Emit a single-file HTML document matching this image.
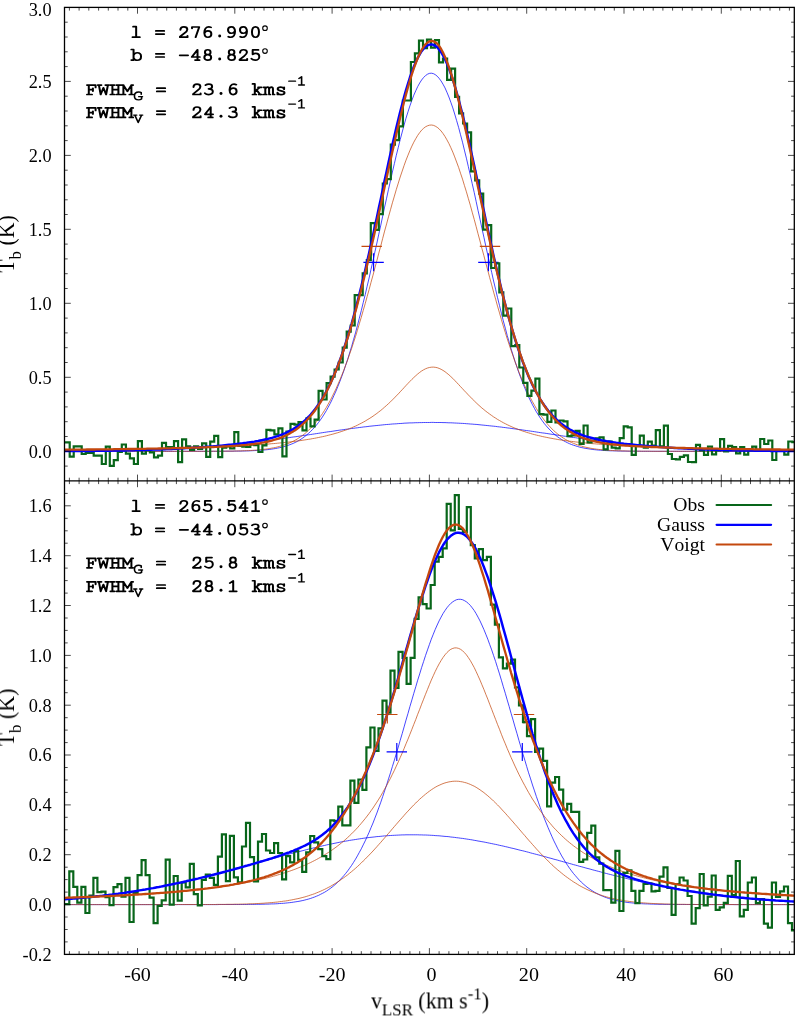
<!DOCTYPE html>
<html><head><meta charset="utf-8"><title>HI profiles</title>
<style>html,body{margin:0;padding:0;background:#fff}svg{display:block;will-change:transform}text{font-kerning:none}</style></head>
<body>
<svg width="796" height="1016" viewBox="0 0 796 1016">
<rect width="796" height="1016" fill="#fff"/>
<defs><clipPath id="c1"><rect x="64.5" y="7.4" width="729.8" height="473.5"/></clipPath>
<clipPath id="c2"><rect x="64.5" y="480.9" width="729.8" height="473.5"/></clipPath></defs>
<g clip-path="url(#c1)" fill="none" stroke-linejoin="miter">
<path d="M63.6,451.3 L65.5,451.3 L67.4,451.3 L69.4,451.3 L71.3,451.3 L73.3,451.3 L75.2,451.3 L77.2,451.3 L79.1,451.3 L81.1,451.3 L83.0,451.3 L85.0,451.3 L86.9,451.3 L88.8,451.3 L90.8,451.3 L92.7,451.3 L94.7,451.3 L96.6,451.3 L98.6,451.3 L100.5,451.3 L102.5,451.3 L104.4,451.3 L106.4,451.3 L108.3,451.3 L110.3,451.3 L112.2,451.3 L114.1,451.3 L116.1,451.3 L118.0,451.3 L120.0,451.3 L121.9,451.3 L123.9,451.3 L125.8,451.3 L127.8,451.3 L129.7,451.3 L131.7,451.3 L133.6,451.3 L135.6,451.3 L137.5,451.3 L139.4,451.3 L141.4,451.3 L143.3,451.3 L145.3,451.3 L147.2,451.3 L149.2,451.3 L151.1,451.3 L153.1,451.3 L155.0,451.3 L157.0,451.3 L158.9,451.3 L160.9,451.3 L162.8,451.3 L164.7,451.3 L166.7,451.3 L168.6,451.3 L170.6,451.3 L172.5,451.3 L174.5,451.3 L176.4,451.3 L178.4,451.3 L180.3,451.3 L182.3,451.3 L184.2,451.3 L186.1,451.3 L188.1,451.3 L190.0,451.3 L192.0,451.3 L193.9,451.3 L195.9,451.3 L197.8,451.3 L199.8,451.3 L201.7,451.3 L203.7,451.3 L205.6,451.3 L207.6,451.3 L209.5,451.3 L211.4,451.3 L213.4,451.3 L215.3,451.3 L217.3,451.3 L219.2,451.3 L221.2,451.3 L223.1,451.2 L225.1,451.2 L227.0,451.2 L229.0,451.2 L230.9,451.2 L232.9,451.2 L234.8,451.1 L236.7,451.1 L238.7,451.1 L240.6,451.1 L242.6,451.0 L244.5,451.0 L246.5,450.9 L248.4,450.9 L250.4,450.8 L252.3,450.7 L254.3,450.6 L256.2,450.5 L258.2,450.4 L260.1,450.3 L262.0,450.2 L264.0,450.0 L265.9,449.8 L267.9,449.6 L269.8,449.4 L271.8,449.1 L273.7,448.8 L275.7,448.5 L277.6,448.1 L279.6,447.7 L281.5,447.3 L283.4,446.8 L285.4,446.2 L287.3,445.6 L289.3,444.9 L291.2,444.2 L293.2,443.4 L295.1,442.5 L297.1,441.5 L299.0,440.4 L301.0,439.2 L302.9,437.9 L304.9,436.4 L306.8,434.9 L308.7,433.2 L310.7,431.4 L312.6,429.4 L314.6,427.3 L316.5,425.0 L318.5,422.5 L320.4,419.9 L322.4,417.0 L324.3,414.0 L326.3,410.7 L328.2,407.2 L330.2,403.5 L332.1,399.6 L334.0,395.4 L336.0,391.0 L337.9,386.4 L339.9,381.4 L341.8,376.3 L343.8,370.9 L345.7,365.2 L347.7,359.2 L349.6,353.0 L351.6,346.6 L353.5,339.8 L355.5,332.9 L357.4,325.7 L359.3,318.3 L361.3,310.6 L363.2,302.7 L365.2,294.7 L367.1,286.4 L369.1,278.0 L371.0,269.4 L373.0,260.7 L374.9,251.9 L376.9,243.0 L378.8,234.1 L380.8,225.1 L382.7,216.1 L384.6,207.1 L386.6,198.2 L388.5,189.3 L390.5,180.6 L392.4,172.0 L394.4,163.5 L396.3,155.3 L398.3,147.3 L400.2,139.6 L402.2,132.1 L404.1,125.0 L406.0,118.2 L408.0,111.8 L409.9,105.9 L411.9,100.3 L413.8,95.2 L415.8,90.7 L417.7,86.6 L419.7,83.0 L421.6,80.0 L423.6,77.5 L425.5,75.6 L427.5,74.2 L429.4,73.4 L431.3,73.2 L433.3,73.6 L435.2,74.6 L437.2,76.2 L439.1,78.3 L441.1,81.0 L443.0,84.2 L445.0,87.9 L446.9,92.2 L448.9,97.0 L450.8,102.2 L452.8,107.9 L454.7,114.0 L456.6,120.5 L458.6,127.4 L460.5,134.7 L462.5,142.2 L464.4,150.1 L466.4,158.2 L468.3,166.5 L470.3,175.0 L472.2,183.6 L474.2,192.4 L476.1,201.3 L478.0,210.3 L480.0,219.2 L481.9,228.2 L483.9,237.2 L485.8,246.2 L487.8,255.0 L489.7,263.8 L491.7,272.4 L493.6,281.0 L495.6,289.3 L497.5,297.5 L499.5,305.5 L501.4,313.3 L503.3,320.9 L505.3,328.2 L507.2,335.4 L509.2,342.2 L511.1,348.9 L513.1,355.2 L515.0,361.3 L517.0,367.2 L518.9,372.8 L520.9,378.1 L522.8,383.2 L524.8,388.0 L526.7,392.6 L528.6,396.9 L530.6,401.0 L532.5,404.8 L534.5,408.5 L536.4,411.9 L538.4,415.0 L540.3,418.0 L542.3,420.8 L544.2,423.4 L546.2,425.8 L548.1,428.0 L550.1,430.1 L552.0,432.0 L553.9,433.8 L555.9,435.4 L557.8,437.0 L559.8,438.3 L561.7,439.6 L563.7,440.8 L565.6,441.8 L567.6,442.8 L569.5,443.7 L571.5,444.5 L573.4,445.2 L575.4,445.8 L577.3,446.4 L579.2,447.0 L581.2,447.5 L583.1,447.9 L585.1,448.3 L587.0,448.6 L589.0,448.9 L590.9,449.2 L592.9,449.5 L594.8,449.7 L596.8,449.9 L598.7,450.1 L600.6,450.2 L602.6,450.4 L604.5,450.5 L606.5,450.6 L608.4,450.7 L610.4,450.8 L612.3,450.8 L614.3,450.9 L616.2,450.9 L618.2,451.0 L620.1,451.0 L622.1,451.1 L624.0,451.1 L625.9,451.1 L627.9,451.2 L629.8,451.2 L631.8,451.2 L633.7,451.2 L635.7,451.2 L637.6,451.2 L639.6,451.2 L641.5,451.3 L643.5,451.3 L645.4,451.3 L647.4,451.3 L649.3,451.3 L651.2,451.3 L653.2,451.3 L655.1,451.3 L657.1,451.3 L659.0,451.3 L661.0,451.3 L662.9,451.3 L664.9,451.3 L666.8,451.3 L668.8,451.3 L670.7,451.3 L672.6,451.3 L674.6,451.3 L676.5,451.3 L678.5,451.3 L680.4,451.3 L682.4,451.3 L684.3,451.3 L686.3,451.3 L688.2,451.3 L690.2,451.3 L692.1,451.3 L694.1,451.3 L696.0,451.3 L697.9,451.3 L699.9,451.3 L701.8,451.3 L703.8,451.3 L705.7,451.3 L707.7,451.3 L709.6,451.3 L711.6,451.3 L713.5,451.3 L715.5,451.3 L717.4,451.3 L719.4,451.3 L721.3,451.3 L723.2,451.3 L725.2,451.3 L727.1,451.3 L729.1,451.3 L731.0,451.3 L733.0,451.3 L734.9,451.3 L736.9,451.3 L738.8,451.3 L740.8,451.3 L742.7,451.3 L744.7,451.3 L746.6,451.3 L748.5,451.3 L750.5,451.3 L752.4,451.3 L754.4,451.3 L756.3,451.3 L758.3,451.3 L760.2,451.3 L762.2,451.3 L764.1,451.3 L766.1,451.3 L768.0,451.3 L770.0,451.3 L771.9,451.3 L773.8,451.3 L775.8,451.3 L777.7,451.3 L779.7,451.3 L781.6,451.3 L783.6,451.3 L785.5,451.3 L787.5,451.3 L789.4,451.3 L791.4,451.3 L793.3,451.3 L795.2,451.3" stroke="#0000ff" stroke-width="1" stroke-opacity="0.72"/>
<path d="M63.6,451.1 L65.5,451.1 L67.4,451.1 L69.4,451.1 L71.3,451.1 L73.3,451.0 L75.2,451.0 L77.2,451.0 L79.1,451.0 L81.1,451.0 L83.0,451.0 L85.0,451.0 L86.9,450.9 L88.8,450.9 L90.8,450.9 L92.7,450.9 L94.7,450.9 L96.6,450.8 L98.6,450.8 L100.5,450.8 L102.5,450.8 L104.4,450.7 L106.4,450.7 L108.3,450.7 L110.3,450.7 L112.2,450.6 L114.1,450.6 L116.1,450.6 L118.0,450.5 L120.0,450.5 L121.9,450.4 L123.9,450.4 L125.8,450.4 L127.8,450.3 L129.7,450.3 L131.7,450.2 L133.6,450.2 L135.6,450.1 L137.5,450.1 L139.4,450.0 L141.4,450.0 L143.3,449.9 L145.3,449.9 L147.2,449.8 L149.2,449.8 L151.1,449.7 L153.1,449.6 L155.0,449.6 L157.0,449.5 L158.9,449.4 L160.9,449.4 L162.8,449.3 L164.7,449.2 L166.7,449.1 L168.6,449.0 L170.6,448.9 L172.5,448.9 L174.5,448.8 L176.4,448.7 L178.4,448.6 L180.3,448.5 L182.3,448.4 L184.2,448.3 L186.1,448.2 L188.1,448.0 L190.0,447.9 L192.0,447.8 L193.9,447.7 L195.9,447.6 L197.8,447.4 L199.8,447.3 L201.7,447.2 L203.7,447.0 L205.6,446.9 L207.6,446.7 L209.5,446.6 L211.4,446.4 L213.4,446.3 L215.3,446.1 L217.3,446.0 L219.2,445.8 L221.2,445.6 L223.1,445.5 L225.1,445.3 L227.0,445.1 L229.0,444.9 L230.9,444.7 L232.9,444.6 L234.8,444.4 L236.7,444.2 L238.7,444.0 L240.6,443.8 L242.6,443.5 L244.5,443.3 L246.5,443.1 L248.4,442.9 L250.4,442.7 L252.3,442.5 L254.3,442.2 L256.2,442.0 L258.2,441.8 L260.1,441.5 L262.0,441.3 L264.0,441.0 L265.9,440.8 L267.9,440.5 L269.8,440.3 L271.8,440.0 L273.7,439.8 L275.7,439.5 L277.6,439.2 L279.6,439.0 L281.5,438.7 L283.4,438.4 L285.4,438.2 L287.3,437.9 L289.3,437.6 L291.2,437.3 L293.2,437.0 L295.1,436.8 L297.1,436.5 L299.0,436.2 L301.0,435.9 L302.9,435.6 L304.9,435.3 L306.8,435.0 L308.7,434.8 L310.7,434.5 L312.6,434.2 L314.6,433.9 L316.5,433.6 L318.5,433.3 L320.4,433.0 L322.4,432.7 L324.3,432.4 L326.3,432.1 L328.2,431.8 L330.2,431.6 L332.1,431.3 L334.0,431.0 L336.0,430.7 L337.9,430.4 L339.9,430.1 L341.8,429.9 L343.8,429.6 L345.7,429.3 L347.7,429.1 L349.6,428.8 L351.6,428.5 L353.5,428.3 L355.5,428.0 L357.4,427.8 L359.3,427.5 L361.3,427.3 L363.2,427.0 L365.2,426.8 L367.1,426.6 L369.1,426.3 L371.0,426.1 L373.0,425.9 L374.9,425.7 L376.9,425.5 L378.8,425.3 L380.8,425.1 L382.7,424.9 L384.6,424.7 L386.6,424.5 L388.5,424.4 L390.5,424.2 L392.4,424.0 L394.4,423.9 L396.3,423.8 L398.3,423.6 L400.2,423.5 L402.2,423.4 L404.1,423.2 L406.0,423.1 L408.0,423.0 L409.9,422.9 L411.9,422.9 L413.8,422.8 L415.8,422.7 L417.7,422.7 L419.7,422.6 L421.6,422.6 L423.6,422.5 L425.5,422.5 L427.5,422.5 L429.4,422.5 L431.3,422.4 L433.3,422.4 L435.2,422.5 L437.2,422.5 L439.1,422.5 L441.1,422.5 L443.0,422.6 L445.0,422.6 L446.9,422.7 L448.9,422.8 L450.8,422.8 L452.8,422.9 L454.7,423.0 L456.6,423.1 L458.6,423.2 L460.5,423.3 L462.5,423.4 L464.4,423.5 L466.4,423.7 L468.3,423.8 L470.3,424.0 L472.2,424.1 L474.2,424.3 L476.1,424.4 L478.0,424.6 L480.0,424.8 L481.9,425.0 L483.9,425.2 L485.8,425.4 L487.8,425.6 L489.7,425.8 L491.7,426.0 L493.6,426.2 L495.6,426.4 L497.5,426.7 L499.5,426.9 L501.4,427.1 L503.3,427.4 L505.3,427.6 L507.2,427.9 L509.2,428.1 L511.1,428.4 L513.1,428.7 L515.0,428.9 L517.0,429.2 L518.9,429.5 L520.9,429.7 L522.8,430.0 L524.8,430.3 L526.7,430.6 L528.6,430.8 L530.6,431.1 L532.5,431.4 L534.5,431.7 L536.4,432.0 L538.4,432.3 L540.3,432.6 L542.3,432.9 L544.2,433.1 L546.2,433.4 L548.1,433.7 L550.1,434.0 L552.0,434.3 L553.9,434.6 L555.9,434.9 L557.8,435.2 L559.8,435.5 L561.7,435.8 L563.7,436.1 L565.6,436.3 L567.6,436.6 L569.5,436.9 L571.5,437.2 L573.4,437.5 L575.4,437.7 L577.3,438.0 L579.2,438.3 L581.2,438.6 L583.1,438.8 L585.1,439.1 L587.0,439.4 L589.0,439.6 L590.9,439.9 L592.9,440.2 L594.8,440.4 L596.8,440.7 L598.7,440.9 L600.6,441.2 L602.6,441.4 L604.5,441.6 L606.5,441.9 L608.4,442.1 L610.4,442.3 L612.3,442.6 L614.3,442.8 L616.2,443.0 L618.2,443.2 L620.1,443.4 L622.1,443.7 L624.0,443.9 L625.9,444.1 L627.9,444.3 L629.8,444.5 L631.8,444.6 L633.7,444.8 L635.7,445.0 L637.6,445.2 L639.6,445.4 L641.5,445.6 L643.5,445.7 L645.4,445.9 L647.4,446.1 L649.3,446.2 L651.2,446.4 L653.2,446.5 L655.1,446.7 L657.1,446.8 L659.0,447.0 L661.0,447.1 L662.9,447.2 L664.9,447.4 L666.8,447.5 L668.8,447.6 L670.7,447.7 L672.6,447.9 L674.6,448.0 L676.5,448.1 L678.5,448.2 L680.4,448.3 L682.4,448.4 L684.3,448.5 L686.3,448.6 L688.2,448.7 L690.2,448.8 L692.1,448.9 L694.1,449.0 L696.0,449.1 L697.9,449.2 L699.9,449.2 L701.8,449.3 L703.8,449.4 L705.7,449.5 L707.7,449.5 L709.6,449.6 L711.6,449.7 L713.5,449.7 L715.5,449.8 L717.4,449.9 L719.4,449.9 L721.3,450.0 L723.2,450.0 L725.2,450.1 L727.1,450.1 L729.1,450.2 L731.0,450.2 L733.0,450.3 L734.9,450.3 L736.9,450.4 L738.8,450.4 L740.8,450.4 L742.7,450.5 L744.7,450.5 L746.6,450.5 L748.5,450.6 L750.5,450.6 L752.4,450.6 L754.4,450.7 L756.3,450.7 L758.3,450.7 L760.2,450.7 L762.2,450.8 L764.1,450.8 L766.1,450.8 L768.0,450.8 L770.0,450.9 L771.9,450.9 L773.8,450.9 L775.8,450.9 L777.7,450.9 L779.7,451.0 L781.6,451.0 L783.6,451.0 L785.5,451.0 L787.5,451.0 L789.4,451.0 L791.4,451.0 L793.3,451.1 L795.2,451.1" stroke="#0000ff" stroke-width="1" stroke-opacity="0.72"/>
<path d="M63.6,451.3 L65.5,451.3 L67.4,451.3 L69.4,451.3 L71.3,451.3 L73.3,451.3 L75.2,451.3 L77.2,451.3 L79.1,451.3 L81.1,451.3 L83.0,451.3 L85.0,451.3 L86.9,451.3 L88.8,451.3 L90.8,451.3 L92.7,451.3 L94.7,451.3 L96.6,451.3 L98.6,451.3 L100.5,451.3 L102.5,451.3 L104.4,451.3 L106.4,451.3 L108.3,451.3 L110.3,451.3 L112.2,451.3 L114.1,451.3 L116.1,451.3 L118.0,451.3 L120.0,451.3 L121.9,451.3 L123.9,451.3 L125.8,451.3 L127.8,451.3 L129.7,451.3 L131.7,451.3 L133.6,451.3 L135.6,451.3 L137.5,451.3 L139.4,451.3 L141.4,451.3 L143.3,451.3 L145.3,451.3 L147.2,451.3 L149.2,451.3 L151.1,451.3 L153.1,451.3 L155.0,451.3 L157.0,451.3 L158.9,451.3 L160.9,451.3 L162.8,451.3 L164.7,451.3 L166.7,451.3 L168.6,451.3 L170.6,451.3 L172.5,451.3 L174.5,451.3 L176.4,451.3 L178.4,451.3 L180.3,451.3 L182.3,451.3 L184.2,451.3 L186.1,451.3 L188.1,451.3 L190.0,451.3 L192.0,451.3 L193.9,451.3 L195.9,451.3 L197.8,451.3 L199.8,451.3 L201.7,451.3 L203.7,451.3 L205.6,451.3 L207.6,451.3 L209.5,451.3 L211.4,451.3 L213.4,451.2 L215.3,451.2 L217.3,451.2 L219.2,451.2 L221.2,451.2 L223.1,451.2 L225.1,451.2 L227.0,451.1 L229.0,451.1 L230.9,451.1 L232.9,451.1 L234.8,451.0 L236.7,451.0 L238.7,450.9 L240.6,450.9 L242.6,450.8 L244.5,450.7 L246.5,450.7 L248.4,450.6 L250.4,450.5 L252.3,450.4 L254.3,450.2 L256.2,450.1 L258.2,449.9 L260.1,449.7 L262.0,449.5 L264.0,449.3 L265.9,449.1 L267.9,448.8 L269.8,448.5 L271.8,448.1 L273.7,447.8 L275.7,447.4 L277.6,446.9 L279.6,446.4 L281.5,445.8 L283.4,445.2 L285.4,444.6 L287.3,443.8 L289.3,443.0 L291.2,442.2 L293.2,441.2 L295.1,440.2 L297.1,439.1 L299.0,437.8 L301.0,436.5 L302.9,435.1 L304.9,433.6 L306.8,431.9 L308.7,430.1 L310.7,428.2 L312.6,426.2 L314.6,424.0 L316.5,421.6 L318.5,419.2 L320.4,416.5 L322.4,413.7 L324.3,410.7 L326.3,407.5 L328.2,404.1 L330.2,400.6 L332.1,396.8 L334.0,392.9 L336.0,388.8 L337.9,384.4 L339.9,379.9 L341.8,375.2 L343.8,370.2 L345.7,365.1 L347.7,359.8 L349.6,354.2 L351.6,348.5 L353.5,342.6 L355.5,336.5 L357.4,330.3 L359.3,323.8 L361.3,317.2 L363.2,310.5 L365.2,303.7 L367.1,296.7 L369.1,289.6 L371.0,282.4 L373.0,275.2 L374.9,267.9 L376.9,260.5 L378.8,253.1 L380.8,245.8 L382.7,238.4 L384.6,231.1 L386.6,223.9 L388.5,216.8 L390.5,209.7 L392.4,202.8 L394.4,196.1 L396.3,189.5 L398.3,183.1 L400.2,177.0 L402.2,171.1 L404.1,165.5 L406.0,160.2 L408.0,155.2 L409.9,150.5 L411.9,146.1 L413.8,142.2 L415.8,138.6 L417.7,135.4 L419.7,132.6 L421.6,130.2 L423.6,128.3 L425.5,126.8 L427.5,125.8 L429.4,125.2 L431.3,125.0 L433.3,125.3 L435.2,126.1 L437.2,127.3 L439.1,128.9 L441.1,131.0 L443.0,133.5 L445.0,136.5 L446.9,139.8 L448.9,143.5 L450.8,147.6 L452.8,152.1 L454.7,156.9 L456.6,162.0 L458.6,167.4 L460.5,173.2 L462.5,179.1 L464.4,185.4 L466.4,191.8 L468.3,198.4 L470.3,205.2 L472.2,212.2 L474.2,219.3 L476.1,226.4 L478.0,233.7 L480.0,241.0 L481.9,248.4 L483.9,255.7 L485.8,263.1 L487.8,270.4 L489.7,277.7 L491.7,284.9 L493.6,292.1 L495.6,299.1 L497.5,306.1 L499.5,312.9 L501.4,319.6 L503.3,326.1 L505.3,332.5 L507.2,338.7 L509.2,344.7 L511.1,350.5 L513.1,356.2 L515.0,361.7 L517.0,366.9 L518.9,372.0 L520.9,376.9 L522.8,381.5 L524.8,386.0 L526.7,390.2 L528.6,394.3 L530.6,398.2 L532.5,401.8 L534.5,405.3 L536.4,408.6 L538.4,411.7 L540.3,414.7 L542.3,417.4 L544.2,420.0 L546.2,422.5 L548.1,424.8 L550.1,426.9 L552.0,428.9 L553.9,430.8 L555.9,432.5 L557.8,434.1 L559.8,435.6 L561.7,437.0 L563.7,438.3 L565.6,439.5 L567.6,440.6 L569.5,441.6 L571.5,442.5 L573.4,443.3 L575.4,444.1 L577.3,444.8 L579.2,445.5 L581.2,446.0 L583.1,446.6 L585.1,447.1 L587.0,447.5 L589.0,447.9 L590.9,448.3 L592.9,448.6 L594.8,448.9 L596.8,449.2 L598.7,449.4 L600.6,449.6 L602.6,449.8 L604.5,450.0 L606.5,450.1 L608.4,450.3 L610.4,450.4 L612.3,450.5 L614.3,450.6 L616.2,450.7 L618.2,450.8 L620.1,450.8 L622.1,450.9 L624.0,450.9 L625.9,451.0 L627.9,451.0 L629.8,451.1 L631.8,451.1 L633.7,451.1 L635.7,451.1 L637.6,451.2 L639.6,451.2 L641.5,451.2 L643.5,451.2 L645.4,451.2 L647.4,451.2 L649.3,451.2 L651.2,451.3 L653.2,451.3 L655.1,451.3 L657.1,451.3 L659.0,451.3 L661.0,451.3 L662.9,451.3 L664.9,451.3 L666.8,451.3 L668.8,451.3 L670.7,451.3 L672.6,451.3 L674.6,451.3 L676.5,451.3 L678.5,451.3 L680.4,451.3 L682.4,451.3 L684.3,451.3 L686.3,451.3 L688.2,451.3 L690.2,451.3 L692.1,451.3 L694.1,451.3 L696.0,451.3 L697.9,451.3 L699.9,451.3 L701.8,451.3 L703.8,451.3 L705.7,451.3 L707.7,451.3 L709.6,451.3 L711.6,451.3 L713.5,451.3 L715.5,451.3 L717.4,451.3 L719.4,451.3 L721.3,451.3 L723.2,451.3 L725.2,451.3 L727.1,451.3 L729.1,451.3 L731.0,451.3 L733.0,451.3 L734.9,451.3 L736.9,451.3 L738.8,451.3 L740.8,451.3 L742.7,451.3 L744.7,451.3 L746.6,451.3 L748.5,451.3 L750.5,451.3 L752.4,451.3 L754.4,451.3 L756.3,451.3 L758.3,451.3 L760.2,451.3 L762.2,451.3 L764.1,451.3 L766.1,451.3 L768.0,451.3 L770.0,451.3 L771.9,451.3 L773.8,451.3 L775.8,451.3 L777.7,451.3 L779.7,451.3 L781.6,451.3 L783.6,451.3 L785.5,451.3 L787.5,451.3 L789.4,451.3 L791.4,451.3 L793.3,451.3 L795.2,451.3" stroke="#c4480e" stroke-width="1" stroke-opacity="0.72"/>
<path d="M63.6,449.7 L65.5,449.7 L67.4,449.7 L69.4,449.7 L71.3,449.7 L73.3,449.7 L75.2,449.6 L77.2,449.6 L79.1,449.6 L81.1,449.6 L83.0,449.6 L85.0,449.6 L86.9,449.5 L88.8,449.5 L90.8,449.5 L92.7,449.5 L94.7,449.5 L96.6,449.4 L98.6,449.4 L100.5,449.4 L102.5,449.4 L104.4,449.3 L106.4,449.3 L108.3,449.3 L110.3,449.3 L112.2,449.3 L114.1,449.2 L116.1,449.2 L118.0,449.2 L120.0,449.2 L121.9,449.1 L123.9,449.1 L125.8,449.1 L127.8,449.0 L129.7,449.0 L131.7,449.0 L133.6,449.0 L135.6,448.9 L137.5,448.9 L139.4,448.9 L141.4,448.8 L143.3,448.8 L145.3,448.8 L147.2,448.7 L149.2,448.7 L151.1,448.7 L153.1,448.6 L155.0,448.6 L157.0,448.6 L158.9,448.5 L160.9,448.5 L162.8,448.4 L164.7,448.4 L166.7,448.4 L168.6,448.3 L170.6,448.3 L172.5,448.2 L174.5,448.2 L176.4,448.1 L178.4,448.1 L180.3,448.0 L182.3,448.0 L184.2,448.0 L186.1,447.9 L188.1,447.8 L190.0,447.8 L192.0,447.7 L193.9,447.7 L195.9,447.6 L197.8,447.6 L199.8,447.5 L201.7,447.4 L203.7,447.4 L205.6,447.3 L207.6,447.3 L209.5,447.2 L211.4,447.1 L213.4,447.0 L215.3,447.0 L217.3,446.9 L219.2,446.8 L221.2,446.7 L223.1,446.7 L225.1,446.6 L227.0,446.5 L229.0,446.4 L230.9,446.3 L232.9,446.2 L234.8,446.1 L236.7,446.0 L238.7,445.9 L240.6,445.8 L242.6,445.7 L244.5,445.6 L246.5,445.5 L248.4,445.4 L250.4,445.3 L252.3,445.2 L254.3,445.0 L256.2,444.9 L258.2,444.8 L260.1,444.6 L262.0,444.5 L264.0,444.4 L265.9,444.2 L267.9,444.1 L269.8,443.9 L271.8,443.7 L273.7,443.6 L275.7,443.4 L277.6,443.2 L279.6,443.0 L281.5,442.8 L283.4,442.6 L285.4,442.4 L287.3,442.2 L289.3,442.0 L291.2,441.8 L293.2,441.5 L295.1,441.3 L297.1,441.0 L299.0,440.8 L301.0,440.5 L302.9,440.2 L304.9,439.9 L306.8,439.6 L308.7,439.3 L310.7,439.0 L312.6,438.6 L314.6,438.3 L316.5,437.9 L318.5,437.5 L320.4,437.1 L322.4,436.7 L324.3,436.3 L326.3,435.8 L328.2,435.3 L330.2,434.8 L332.1,434.3 L334.0,433.8 L336.0,433.2 L337.9,432.7 L339.9,432.0 L341.8,431.4 L343.8,430.7 L345.7,430.1 L347.7,429.3 L349.6,428.6 L351.6,427.8 L353.5,426.9 L355.5,426.1 L357.4,425.2 L359.3,424.2 L361.3,423.2 L363.2,422.2 L365.2,421.1 L367.1,419.9 L369.1,418.7 L371.0,417.5 L373.0,416.2 L374.9,414.8 L376.9,413.4 L378.8,411.9 L380.8,410.4 L382.7,408.8 L384.6,407.1 L386.6,405.4 L388.5,403.6 L390.5,401.8 L392.4,399.9 L394.4,397.9 L396.3,395.9 L398.3,393.9 L400.2,391.8 L402.2,389.7 L404.1,387.6 L406.0,385.5 L408.0,383.4 L409.9,381.4 L411.9,379.4 L413.8,377.5 L415.8,375.7 L417.7,374.0 L419.7,372.4 L421.6,371.0 L423.6,369.8 L425.5,368.8 L427.5,368.0 L429.4,367.5 L431.3,367.2 L433.3,367.1 L435.2,367.3 L437.2,367.7 L439.1,368.4 L441.1,369.3 L443.0,370.4 L445.0,371.7 L446.9,373.2 L448.9,374.8 L450.8,376.6 L452.8,378.4 L454.7,380.4 L456.6,382.4 L458.6,384.5 L460.5,386.6 L462.5,388.7 L464.4,390.8 L466.4,392.8 L468.3,394.9 L470.3,396.9 L472.2,398.9 L474.2,400.8 L476.1,402.7 L478.0,404.5 L480.0,406.3 L481.9,408.0 L483.9,409.6 L485.8,411.2 L487.8,412.7 L489.7,414.1 L491.7,415.5 L493.6,416.9 L495.6,418.1 L497.5,419.4 L499.5,420.5 L501.4,421.6 L503.3,422.7 L505.3,423.7 L507.2,424.7 L509.2,425.6 L511.1,426.5 L513.1,427.4 L515.0,428.2 L517.0,428.9 L518.9,429.7 L520.9,430.4 L522.8,431.1 L524.8,431.7 L526.7,432.4 L528.6,432.9 L530.6,433.5 L532.5,434.1 L534.5,434.6 L536.4,435.1 L538.4,435.6 L540.3,436.0 L542.3,436.5 L544.2,436.9 L546.2,437.3 L548.1,437.7 L550.1,438.1 L552.0,438.4 L553.9,438.8 L555.9,439.1 L557.8,439.5 L559.8,439.8 L561.7,440.1 L563.7,440.4 L565.6,440.6 L567.6,440.9 L569.5,441.2 L571.5,441.4 L573.4,441.6 L575.4,441.9 L577.3,442.1 L579.2,442.3 L581.2,442.5 L583.1,442.7 L585.1,442.9 L587.0,443.1 L589.0,443.3 L590.9,443.5 L592.9,443.7 L594.8,443.8 L596.8,444.0 L598.7,444.1 L600.6,444.3 L602.6,444.4 L604.5,444.6 L606.5,444.7 L608.4,444.8 L610.4,445.0 L612.3,445.1 L614.3,445.2 L616.2,445.3 L618.2,445.5 L620.1,445.6 L622.1,445.7 L624.0,445.8 L625.9,445.9 L627.9,446.0 L629.8,446.1 L631.8,446.2 L633.7,446.3 L635.7,446.4 L637.6,446.5 L639.6,446.5 L641.5,446.6 L643.5,446.7 L645.4,446.8 L647.4,446.9 L649.3,446.9 L651.2,447.0 L653.2,447.1 L655.1,447.2 L657.1,447.2 L659.0,447.3 L661.0,447.4 L662.9,447.4 L664.9,447.5 L666.8,447.5 L668.8,447.6 L670.7,447.7 L672.6,447.7 L674.6,447.8 L676.5,447.8 L678.5,447.9 L680.4,447.9 L682.4,448.0 L684.3,448.0 L686.3,448.1 L688.2,448.1 L690.2,448.2 L692.1,448.2 L694.1,448.3 L696.0,448.3 L697.9,448.3 L699.9,448.4 L701.8,448.4 L703.8,448.5 L705.7,448.5 L707.7,448.5 L709.6,448.6 L711.6,448.6 L713.5,448.7 L715.5,448.7 L717.4,448.7 L719.4,448.8 L721.3,448.8 L723.2,448.8 L725.2,448.9 L727.1,448.9 L729.1,448.9 L731.0,448.9 L733.0,449.0 L734.9,449.0 L736.9,449.0 L738.8,449.1 L740.8,449.1 L742.7,449.1 L744.7,449.1 L746.6,449.2 L748.5,449.2 L750.5,449.2 L752.4,449.2 L754.4,449.3 L756.3,449.3 L758.3,449.3 L760.2,449.3 L762.2,449.4 L764.1,449.4 L766.1,449.4 L768.0,449.4 L770.0,449.4 L771.9,449.5 L773.8,449.5 L775.8,449.5 L777.7,449.5 L779.7,449.5 L781.6,449.6 L783.6,449.6 L785.5,449.6 L787.5,449.6 L789.4,449.6 L791.4,449.7 L793.3,449.7 L795.2,449.7" stroke="#c4480e" stroke-width="1" stroke-opacity="0.72"/>
<path d="M363.4,262.3H383.8M373.6,253.3V271.3" stroke="#0000ff" stroke-width="1.15"/>
<path d="M478.2,262.3H498.6M488.4,253.3V271.3" stroke="#0000ff" stroke-width="1.15"/>
<path d="M361.5,246.4H381.9M371.7,237.4V255.4" stroke="#c4480e" stroke-width="1.15"/>
<path d="M479.8,246.4H500.2M490.0,237.4V255.4" stroke="#c4480e" stroke-width="1.15"/>
<path d="M64.5,442.4H69.7V456.6H73.7V446.4H77.7V446.4H81.7V454.0H85.7V452.9H89.7V452.9H93.7V455.6H97.8V455.6H101.8V464.0H105.8V446.7H109.8V465.8H113.8V460.2H117.8V452.0H121.8V444.5H125.9V453.7H129.9V458.3H133.9V464.0H137.9V441.1H141.9V453.7H145.9V450.1H149.9V452.3H154.0V457.4H158.0V455.7H162.0V442.9H166.0V447.0H170.0V447.0H174.0V441.1H178.1V462.1H182.1V439.3H186.1V446.4H190.1V450.0H194.1V446.4H198.1V448.9H202.1V443.3H206.2V456.9H210.2V441.7H214.2V435.8H218.2V457.1H222.2V447.7H226.2V446.4H230.2V448.3H234.3V432.2H238.3V445.8H242.3V446.7H246.3V447.0H250.3V444.5H254.3V445.2H258.4V452.0H262.4V445.4H266.4V429.8H270.4V430.3H274.4V434.3H278.4V428.4H282.4V456.3H286.5V431.5H290.5V423.9H294.5V424.7H298.5V422.1H302.5V430.3H306.5V418.3H310.5V426.3H314.6V419.6H318.6V390.9H322.6V399.5H326.6V383.1H330.6V376.7H334.6V369.5H338.7V362.5H342.7V347.6H346.7V331.7H350.7V325.5H354.7V295.2H358.7V295.2H362.7V273.4H366.8V260.1H370.8V223.1H374.8V229.9H378.8V214.1H382.8V183.5H386.8V179.2H390.8V144.6H394.9V140.1H398.9V126.4H402.9V100.5H406.9V100.5H410.9V62.0H414.9V53.3H419.0V40.7H423.0V48.2H427.0V39.6H431.0V47.6H435.0V40.1H439.0V62.4H443.0V58.7H447.1V79.9H451.1V68.6H455.1V96.9H459.1V113.3H463.1V123.5H467.1V132.3H471.1V171.3H475.2V180.4H479.2V193.7H483.2V229.6H487.2V225.2H491.2V268.0H495.2V263.3H499.3V292.4H503.3V315.6H507.3V308.5H511.3V346.2H515.3V345.2H519.3V367.5H523.3V382.8H527.4V395.8H531.4V390.6H535.4V378.6H539.4V414.2H543.4V414.6H547.4V421.9H551.4V410.5H555.5V422.4H559.5V420.5H563.5V421.4H567.5V436.2H571.5V435.3H575.5V430.9H579.6V443.8H583.6V425.5H587.6V442.4H591.6V440.9H595.6V438.3H599.6V437.4H603.6V449.4H607.7V441.5H611.7V447.7H615.7V448.3H619.7V438.1H623.7V426.4H627.7V427.3H631.7V454.9H635.8V445.4H639.8V435.6H643.8V447.7H647.8V441.7H651.8V445.5H655.8V430.1H659.9V446.3H663.9V425.6H667.9V454.0H671.9V459.0H675.9V459.3H679.9V456.8H683.9V455.3H688.0V462.0H692.0V462.2H696.0V444.9H700.0V450.3H704.0V454.9H708.0V446.7H712.0V454.3H716.1V450.3H720.1V439.2H724.1V451.3H728.1V445.8H732.1V447.2H736.1V453.4H740.2V447.2H744.2V454.7H748.2V450.3H752.2V446.7H756.2V450.3H760.2V439.0H764.2V444.0H768.3V440.5H772.3V460.0H776.3V450.3H780.3V450.3H784.3V454.7H788.3V441.5H792.3V442.1H795.3V442.1H795.3" stroke="#08661a" stroke-width="2.2"/>
<path d="M63.6,451.1 L65.5,451.1 L67.4,451.1 L69.4,451.1 L71.3,451.1 L73.3,451.0 L75.2,451.0 L77.2,451.0 L79.1,451.0 L81.1,451.0 L83.0,451.0 L85.0,451.0 L86.9,450.9 L88.8,450.9 L90.8,450.9 L92.7,450.9 L94.7,450.9 L96.6,450.8 L98.6,450.8 L100.5,450.8 L102.5,450.8 L104.4,450.7 L106.4,450.7 L108.3,450.7 L110.3,450.7 L112.2,450.6 L114.1,450.6 L116.1,450.6 L118.0,450.5 L120.0,450.5 L121.9,450.4 L123.9,450.4 L125.8,450.4 L127.8,450.3 L129.7,450.3 L131.7,450.2 L133.6,450.2 L135.6,450.1 L137.5,450.1 L139.4,450.0 L141.4,450.0 L143.3,449.9 L145.3,449.9 L147.2,449.8 L149.2,449.8 L151.1,449.7 L153.1,449.6 L155.0,449.6 L157.0,449.5 L158.9,449.4 L160.9,449.4 L162.8,449.3 L164.7,449.2 L166.7,449.1 L168.6,449.0 L170.6,448.9 L172.5,448.9 L174.5,448.8 L176.4,448.7 L178.4,448.6 L180.3,448.5 L182.3,448.4 L184.2,448.3 L186.1,448.1 L188.1,448.0 L190.0,447.9 L192.0,447.8 L193.9,447.7 L195.9,447.6 L197.8,447.4 L199.8,447.3 L201.7,447.2 L203.7,447.0 L205.6,446.9 L207.6,446.7 L209.5,446.6 L211.4,446.4 L213.4,446.3 L215.3,446.1 L217.3,445.9 L219.2,445.8 L221.2,445.6 L223.1,445.4 L225.1,445.2 L227.0,445.0 L229.0,444.8 L230.9,444.6 L232.9,444.4 L234.8,444.2 L236.7,444.0 L238.7,443.8 L240.6,443.5 L242.6,443.3 L244.5,443.0 L246.5,442.8 L248.4,442.5 L250.4,442.2 L252.3,441.9 L254.3,441.6 L256.2,441.2 L258.2,440.9 L260.1,440.5 L262.0,440.1 L264.0,439.7 L265.9,439.3 L267.9,438.9 L269.8,438.4 L271.8,437.9 L273.7,437.3 L275.7,436.7 L277.6,436.1 L279.6,435.4 L281.5,434.7 L283.4,433.9 L285.4,433.1 L287.3,432.2 L289.3,431.2 L291.2,430.2 L293.2,429.1 L295.1,427.9 L297.1,426.6 L299.0,425.3 L301.0,423.8 L302.9,422.2 L304.9,420.5 L306.8,418.6 L308.7,416.7 L310.7,414.5 L312.6,412.3 L314.6,409.9 L316.5,407.3 L318.5,404.5 L320.4,401.6 L322.4,398.4 L324.3,395.1 L326.3,391.5 L328.2,387.8 L330.2,383.8 L332.1,379.6 L334.0,375.1 L336.0,370.4 L337.9,365.5 L339.9,360.3 L341.8,354.8 L343.8,349.1 L345.7,343.2 L347.7,337.0 L349.6,330.5 L351.6,323.8 L353.5,316.8 L355.5,309.6 L357.4,302.1 L359.3,294.5 L361.3,286.6 L363.2,278.5 L365.2,270.2 L367.1,261.7 L369.1,253.0 L371.0,244.2 L373.0,235.3 L374.9,226.3 L376.9,217.2 L378.8,208.1 L380.8,198.9 L382.7,189.7 L384.6,180.5 L386.6,171.4 L388.5,162.4 L390.5,153.5 L392.4,144.7 L394.4,136.1 L396.3,127.8 L398.3,119.6 L400.2,111.7 L402.2,104.2 L404.1,96.9 L406.0,90.1 L408.0,83.6 L409.9,77.5 L411.9,71.9 L413.8,66.7 L415.8,62.1 L417.7,57.9 L419.7,54.3 L421.6,51.2 L423.6,48.7 L425.5,46.7 L427.5,45.4 L429.4,44.6 L431.3,44.4 L433.3,44.8 L435.2,45.8 L437.2,47.3 L439.1,49.5 L441.1,52.2 L443.0,55.5 L445.0,59.3 L446.9,63.6 L448.9,68.4 L450.8,73.7 L452.8,79.5 L454.7,85.7 L456.6,92.3 L458.6,99.3 L460.5,106.7 L462.5,114.4 L464.4,122.3 L466.4,130.5 L468.3,139.0 L470.3,147.6 L472.2,156.5 L474.2,165.4 L476.1,174.5 L478.0,183.6 L480.0,192.7 L481.9,201.9 L483.9,211.1 L485.8,220.2 L487.8,229.3 L489.7,238.3 L491.7,247.1 L493.6,255.9 L495.6,264.5 L497.5,272.9 L499.5,281.1 L501.4,289.1 L503.3,297.0 L505.3,304.6 L507.2,311.9 L509.2,319.1 L511.1,325.9 L513.1,332.6 L515.0,339.0 L517.0,345.1 L518.9,350.9 L520.9,356.5 L522.8,361.9 L524.8,367.0 L526.7,371.8 L528.6,376.5 L530.6,380.8 L532.5,385.0 L534.5,388.9 L536.4,392.5 L538.4,396.0 L540.3,399.3 L542.3,402.4 L544.2,405.2 L546.2,408.0 L548.1,410.5 L550.1,412.8 L552.0,415.1 L553.9,417.1 L555.9,419.0 L557.8,420.8 L559.8,422.5 L561.7,424.1 L563.7,425.5 L565.6,426.9 L567.6,428.1 L569.5,429.3 L571.5,430.3 L573.4,431.4 L575.4,432.3 L577.3,433.2 L579.2,434.0 L581.2,434.7 L583.1,435.4 L585.1,436.1 L587.0,436.7 L589.0,437.3 L590.9,437.8 L592.9,438.3 L594.8,438.8 L596.8,439.2 L598.7,439.7 L600.6,440.1 L602.6,440.5 L604.5,440.8 L606.5,441.2 L608.4,441.5 L610.4,441.8 L612.3,442.1 L614.3,442.4 L616.2,442.7 L618.2,442.9 L620.1,443.2 L622.1,443.4 L624.0,443.7 L625.9,443.9 L627.9,444.1 L629.8,444.3 L631.8,444.5 L633.7,444.7 L635.7,444.9 L637.6,445.1 L639.6,445.3 L641.5,445.5 L643.5,445.7 L645.4,445.9 L647.4,446.0 L649.3,446.2 L651.2,446.3 L653.2,446.5 L655.1,446.7 L657.1,446.8 L659.0,446.9 L661.0,447.1 L662.9,447.2 L664.9,447.4 L666.8,447.5 L668.8,447.6 L670.7,447.7 L672.6,447.9 L674.6,448.0 L676.5,448.1 L678.5,448.2 L680.4,448.3 L682.4,448.4 L684.3,448.5 L686.3,448.6 L688.2,448.7 L690.2,448.8 L692.1,448.9 L694.1,449.0 L696.0,449.1 L697.9,449.2 L699.9,449.2 L701.8,449.3 L703.8,449.4 L705.7,449.5 L707.7,449.5 L709.6,449.6 L711.6,449.7 L713.5,449.7 L715.5,449.8 L717.4,449.9 L719.4,449.9 L721.3,450.0 L723.2,450.0 L725.2,450.1 L727.1,450.1 L729.1,450.2 L731.0,450.2 L733.0,450.3 L734.9,450.3 L736.9,450.4 L738.8,450.4 L740.8,450.4 L742.7,450.5 L744.7,450.5 L746.6,450.5 L748.5,450.6 L750.5,450.6 L752.4,450.6 L754.4,450.7 L756.3,450.7 L758.3,450.7 L760.2,450.7 L762.2,450.8 L764.1,450.8 L766.1,450.8 L768.0,450.8 L770.0,450.9 L771.9,450.9 L773.8,450.9 L775.8,450.9 L777.7,450.9 L779.7,451.0 L781.6,451.0 L783.6,451.0 L785.5,451.0 L787.5,451.0 L789.4,451.0 L791.4,451.0 L793.3,451.1 L795.2,451.1" stroke="#0000ff" stroke-width="2.45" stroke-linejoin="round"/>
<path d="M63.6,449.7 L65.5,449.7 L67.4,449.7 L69.4,449.7 L71.3,449.7 L73.3,449.7 L75.2,449.6 L77.2,449.6 L79.1,449.6 L81.1,449.6 L83.0,449.6 L85.0,449.6 L86.9,449.5 L88.8,449.5 L90.8,449.5 L92.7,449.5 L94.7,449.5 L96.6,449.4 L98.6,449.4 L100.5,449.4 L102.5,449.4 L104.4,449.3 L106.4,449.3 L108.3,449.3 L110.3,449.3 L112.2,449.3 L114.1,449.2 L116.1,449.2 L118.0,449.2 L120.0,449.2 L121.9,449.1 L123.9,449.1 L125.8,449.1 L127.8,449.0 L129.7,449.0 L131.7,449.0 L133.6,449.0 L135.6,448.9 L137.5,448.9 L139.4,448.9 L141.4,448.8 L143.3,448.8 L145.3,448.8 L147.2,448.7 L149.2,448.7 L151.1,448.7 L153.1,448.6 L155.0,448.6 L157.0,448.6 L158.9,448.5 L160.9,448.5 L162.8,448.4 L164.7,448.4 L166.7,448.4 L168.6,448.3 L170.6,448.3 L172.5,448.2 L174.5,448.2 L176.4,448.1 L178.4,448.1 L180.3,448.0 L182.3,448.0 L184.2,447.9 L186.1,447.9 L188.1,447.8 L190.0,447.8 L192.0,447.7 L193.9,447.7 L195.9,447.6 L197.8,447.6 L199.8,447.5 L201.7,447.4 L203.7,447.4 L205.6,447.3 L207.6,447.2 L209.5,447.1 L211.4,447.1 L213.4,447.0 L215.3,446.9 L217.3,446.8 L219.2,446.7 L221.2,446.6 L223.1,446.5 L225.1,446.4 L227.0,446.3 L229.0,446.2 L230.9,446.1 L232.9,446.0 L234.8,445.9 L236.7,445.7 L238.7,445.6 L240.6,445.4 L242.6,445.2 L244.5,445.1 L246.5,444.9 L248.4,444.7 L250.4,444.5 L252.3,444.2 L254.3,444.0 L256.2,443.7 L258.2,443.4 L260.1,443.1 L262.0,442.7 L264.0,442.4 L265.9,442.0 L267.9,441.6 L269.8,441.1 L271.8,440.6 L273.7,440.0 L275.7,439.4 L277.6,438.8 L279.6,438.1 L281.5,437.4 L283.4,436.6 L285.4,435.7 L287.3,434.7 L289.3,433.7 L291.2,432.6 L293.2,431.4 L295.1,430.2 L297.1,428.8 L299.0,427.3 L301.0,425.7 L302.9,424.0 L304.9,422.2 L306.8,420.2 L308.7,418.1 L310.7,415.9 L312.6,413.5 L314.6,411.0 L316.5,408.2 L318.5,405.4 L320.4,402.3 L322.4,399.1 L324.3,395.6 L326.3,392.0 L328.2,388.2 L330.2,384.1 L332.1,379.9 L334.0,375.4 L336.0,370.7 L337.9,365.8 L339.9,360.7 L341.8,355.3 L343.8,349.7 L345.7,343.9 L347.7,337.8 L349.6,331.5 L351.6,325.0 L353.5,318.2 L355.5,311.3 L357.4,304.1 L359.3,296.7 L361.3,289.2 L363.2,281.4 L365.2,273.4 L367.1,265.3 L369.1,257.0 L371.0,248.6 L373.0,240.1 L374.9,231.4 L376.9,222.6 L378.8,213.8 L380.8,204.9 L382.7,195.9 L384.6,187.0 L386.6,178.0 L388.5,169.1 L390.5,160.2 L392.4,151.4 L394.4,142.7 L396.3,134.1 L398.3,125.7 L400.2,117.5 L402.2,109.5 L404.1,101.8 L406.0,94.4 L408.0,87.3 L409.9,80.6 L411.9,74.2 L413.8,68.4 L415.8,63.0 L417.7,58.1 L419.7,53.7 L421.6,50.0 L423.6,46.8 L425.5,44.3 L427.5,42.5 L429.4,41.4 L431.3,40.9 L433.3,41.2 L435.2,42.1 L437.2,43.7 L439.1,46.0 L441.1,49.0 L443.0,52.6 L445.0,56.9 L446.9,61.7 L448.9,67.0 L450.8,72.9 L452.8,79.2 L454.7,86.0 L456.6,93.1 L458.6,100.6 L460.5,108.4 L462.5,116.5 L464.4,124.8 L466.4,133.3 L468.3,142.0 L470.3,150.8 L472.2,159.8 L474.2,168.8 L476.1,177.8 L478.0,186.9 L480.0,196.0 L481.9,205.0 L483.9,214.0 L485.8,223.0 L487.8,231.8 L489.7,240.5 L491.7,249.2 L493.6,257.6 L495.6,266.0 L497.5,274.1 L499.5,282.1 L501.4,289.9 L503.3,297.5 L505.3,304.9 L507.2,312.1 L509.2,319.0 L511.1,325.7 L513.1,332.3 L515.0,338.5 L517.0,344.6 L518.9,350.4 L520.9,356.0 L522.8,361.3 L524.8,366.4 L526.7,371.3 L528.6,376.0 L530.6,380.4 L532.5,384.6 L534.5,388.6 L536.4,392.4 L538.4,396.0 L540.3,399.4 L542.3,402.6 L544.2,405.6 L546.2,408.5 L548.1,411.2 L550.1,413.7 L552.0,416.1 L553.9,418.3 L555.9,420.3 L557.8,422.3 L559.8,424.1 L561.7,425.8 L563.7,427.3 L565.6,428.8 L567.6,430.1 L569.5,431.4 L571.5,432.6 L573.4,433.7 L575.4,434.7 L577.3,435.6 L579.2,436.5 L581.2,437.3 L583.1,438.0 L585.1,438.7 L587.0,439.3 L589.0,439.9 L590.9,440.5 L592.9,441.0 L594.8,441.4 L596.8,441.8 L598.7,442.2 L600.6,442.6 L602.6,442.9 L604.5,443.3 L606.5,443.5 L608.4,443.8 L610.4,444.1 L612.3,444.3 L614.3,444.5 L616.2,444.7 L618.2,444.9 L620.1,445.1 L622.1,445.3 L624.0,445.4 L625.9,445.6 L627.9,445.7 L629.8,445.9 L631.8,446.0 L633.7,446.1 L635.7,446.2 L637.6,446.3 L639.6,446.4 L641.5,446.5 L643.5,446.6 L645.4,446.7 L647.4,446.8 L649.3,446.9 L651.2,447.0 L653.2,447.0 L655.1,447.1 L657.1,447.2 L659.0,447.3 L661.0,447.3 L662.9,447.4 L664.9,447.5 L666.8,447.5 L668.8,447.6 L670.7,447.6 L672.6,447.7 L674.6,447.8 L676.5,447.8 L678.5,447.9 L680.4,447.9 L682.4,448.0 L684.3,448.0 L686.3,448.1 L688.2,448.1 L690.2,448.2 L692.1,448.2 L694.1,448.3 L696.0,448.3 L697.9,448.3 L699.9,448.4 L701.8,448.4 L703.8,448.5 L705.7,448.5 L707.7,448.5 L709.6,448.6 L711.6,448.6 L713.5,448.7 L715.5,448.7 L717.4,448.7 L719.4,448.8 L721.3,448.8 L723.2,448.8 L725.2,448.9 L727.1,448.9 L729.1,448.9 L731.0,448.9 L733.0,449.0 L734.9,449.0 L736.9,449.0 L738.8,449.1 L740.8,449.1 L742.7,449.1 L744.7,449.1 L746.6,449.2 L748.5,449.2 L750.5,449.2 L752.4,449.2 L754.4,449.3 L756.3,449.3 L758.3,449.3 L760.2,449.3 L762.2,449.4 L764.1,449.4 L766.1,449.4 L768.0,449.4 L770.0,449.4 L771.9,449.5 L773.8,449.5 L775.8,449.5 L777.7,449.5 L779.7,449.5 L781.6,449.6 L783.6,449.6 L785.5,449.6 L787.5,449.6 L789.4,449.6 L791.4,449.7 L793.3,449.7 L795.2,449.7" stroke="#c4480e" stroke-width="2.3" stroke-linejoin="round"/>
</g>
<g clip-path="url(#c2)" fill="none" stroke-linejoin="miter">
<path d="M63.6,904.6 L65.5,904.6 L67.4,904.6 L69.4,904.6 L71.3,904.6 L73.3,904.6 L75.2,904.6 L77.2,904.6 L79.1,904.6 L81.1,904.6 L83.0,904.6 L85.0,904.6 L86.9,904.6 L88.8,904.6 L90.8,904.6 L92.7,904.6 L94.7,904.6 L96.6,904.6 L98.6,904.6 L100.5,904.6 L102.5,904.6 L104.4,904.6 L106.4,904.6 L108.3,904.6 L110.3,904.6 L112.2,904.6 L114.1,904.6 L116.1,904.6 L118.0,904.6 L120.0,904.6 L121.9,904.6 L123.9,904.6 L125.8,904.6 L127.8,904.6 L129.7,904.6 L131.7,904.6 L133.6,904.6 L135.6,904.6 L137.5,904.6 L139.4,904.6 L141.4,904.6 L143.3,904.6 L145.3,904.6 L147.2,904.6 L149.2,904.6 L151.1,904.6 L153.1,904.6 L155.0,904.6 L157.0,904.6 L158.9,904.6 L160.9,904.6 L162.8,904.6 L164.7,904.6 L166.7,904.6 L168.6,904.6 L170.6,904.6 L172.5,904.6 L174.5,904.6 L176.4,904.6 L178.4,904.6 L180.3,904.6 L182.3,904.6 L184.2,904.6 L186.1,904.6 L188.1,904.6 L190.0,904.6 L192.0,904.6 L193.9,904.6 L195.9,904.6 L197.8,904.6 L199.8,904.6 L201.7,904.6 L203.7,904.6 L205.6,904.6 L207.6,904.6 L209.5,904.6 L211.4,904.6 L213.4,904.6 L215.3,904.6 L217.3,904.6 L219.2,904.5 L221.2,904.5 L223.1,904.5 L225.1,904.5 L227.0,904.5 L229.0,904.5 L230.9,904.5 L232.9,904.5 L234.8,904.5 L236.7,904.5 L238.7,904.5 L240.6,904.5 L242.6,904.5 L244.5,904.5 L246.5,904.5 L248.4,904.4 L250.4,904.4 L252.3,904.4 L254.3,904.4 L256.2,904.3 L258.2,904.3 L260.1,904.3 L262.0,904.2 L264.0,904.2 L265.9,904.1 L267.9,904.1 L269.8,904.0 L271.8,903.9 L273.7,903.9 L275.7,903.8 L277.6,903.7 L279.6,903.5 L281.5,903.4 L283.4,903.3 L285.4,903.1 L287.3,902.9 L289.3,902.7 L291.2,902.5 L293.2,902.2 L295.1,901.9 L297.1,901.6 L299.0,901.3 L301.0,900.9 L302.9,900.5 L304.9,900.0 L306.8,899.5 L308.7,899.0 L310.7,898.4 L312.6,897.7 L314.6,897.0 L316.5,896.2 L318.5,895.4 L320.4,894.4 L322.4,893.4 L324.3,892.4 L326.3,891.2 L328.2,889.9 L330.2,888.5 L332.1,887.1 L334.0,885.5 L336.0,883.8 L337.9,882.0 L339.9,880.0 L341.8,877.9 L343.8,875.7 L345.7,873.4 L347.7,870.9 L349.6,868.2 L351.6,865.4 L353.5,862.4 L355.5,859.2 L357.4,855.9 L359.3,852.4 L361.3,848.8 L363.2,844.9 L365.2,840.9 L367.1,836.7 L369.1,832.3 L371.0,827.7 L373.0,823.0 L374.9,818.1 L376.9,813.0 L378.8,807.7 L380.8,802.2 L382.7,796.6 L384.6,790.9 L386.6,785.0 L388.5,778.9 L390.5,772.8 L392.4,766.5 L394.4,760.1 L396.3,753.6 L398.3,747.0 L400.2,740.3 L402.2,733.6 L404.1,726.9 L406.0,720.1 L408.0,713.4 L409.9,706.6 L411.9,699.9 L413.8,693.3 L415.8,686.7 L417.7,680.2 L419.7,673.9 L421.6,667.6 L423.6,661.5 L425.5,655.6 L427.5,649.9 L429.4,644.5 L431.3,639.2 L433.3,634.2 L435.2,629.5 L437.2,625.0 L439.1,620.9 L441.1,617.1 L443.0,613.6 L445.0,610.5 L446.9,607.8 L448.9,605.4 L450.8,603.4 L452.8,601.8 L454.7,600.6 L456.6,599.7 L458.6,599.3 L460.5,599.3 L462.5,599.7 L464.4,600.6 L466.4,601.8 L468.3,603.4 L470.3,605.4 L472.2,607.8 L474.2,610.5 L476.1,613.6 L478.0,617.1 L480.0,620.9 L481.9,625.0 L483.9,629.5 L485.8,634.2 L487.8,639.2 L489.7,644.5 L491.7,649.9 L493.6,655.6 L495.6,661.5 L497.5,667.6 L499.5,673.9 L501.4,680.2 L503.3,686.7 L505.3,693.3 L507.2,699.9 L509.2,706.6 L511.1,713.4 L513.1,720.1 L515.0,726.9 L517.0,733.6 L518.9,740.3 L520.9,747.0 L522.8,753.6 L524.8,760.1 L526.7,766.5 L528.6,772.8 L530.6,778.9 L532.5,785.0 L534.5,790.9 L536.4,796.6 L538.4,802.2 L540.3,807.7 L542.3,813.0 L544.2,818.1 L546.2,823.0 L548.1,827.7 L550.1,832.3 L552.0,836.7 L553.9,840.9 L555.9,844.9 L557.8,848.8 L559.8,852.4 L561.7,855.9 L563.7,859.2 L565.6,862.4 L567.6,865.4 L569.5,868.2 L571.5,870.9 L573.4,873.4 L575.4,875.7 L577.3,877.9 L579.2,880.0 L581.2,882.0 L583.1,883.8 L585.1,885.5 L587.0,887.1 L589.0,888.5 L590.9,889.9 L592.9,891.2 L594.8,892.4 L596.8,893.4 L598.7,894.4 L600.6,895.4 L602.6,896.2 L604.5,897.0 L606.5,897.7 L608.4,898.4 L610.4,899.0 L612.3,899.5 L614.3,900.0 L616.2,900.5 L618.2,900.9 L620.1,901.3 L622.1,901.6 L624.0,901.9 L625.9,902.2 L627.9,902.5 L629.8,902.7 L631.8,902.9 L633.7,903.1 L635.7,903.3 L637.6,903.4 L639.6,903.5 L641.5,903.7 L643.5,903.8 L645.4,903.9 L647.4,903.9 L649.3,904.0 L651.2,904.1 L653.2,904.1 L655.1,904.2 L657.1,904.2 L659.0,904.3 L661.0,904.3 L662.9,904.3 L664.9,904.4 L666.8,904.4 L668.8,904.4 L670.7,904.4 L672.6,904.5 L674.6,904.5 L676.5,904.5 L678.5,904.5 L680.4,904.5 L682.4,904.5 L684.3,904.5 L686.3,904.5 L688.2,904.5 L690.2,904.5 L692.1,904.5 L694.1,904.5 L696.0,904.5 L697.9,904.5 L699.9,904.5 L701.8,904.6 L703.8,904.6 L705.7,904.6 L707.7,904.6 L709.6,904.6 L711.6,904.6 L713.5,904.6 L715.5,904.6 L717.4,904.6 L719.4,904.6 L721.3,904.6 L723.2,904.6 L725.2,904.6 L727.1,904.6 L729.1,904.6 L731.0,904.6 L733.0,904.6 L734.9,904.6 L736.9,904.6 L738.8,904.6 L740.8,904.6 L742.7,904.6 L744.7,904.6 L746.6,904.6 L748.5,904.6 L750.5,904.6 L752.4,904.6 L754.4,904.6 L756.3,904.6 L758.3,904.6 L760.2,904.6 L762.2,904.6 L764.1,904.6 L766.1,904.6 L768.0,904.6 L770.0,904.6 L771.9,904.6 L773.8,904.6 L775.8,904.6 L777.7,904.6 L779.7,904.6 L781.6,904.6 L783.6,904.6 L785.5,904.6 L787.5,904.6 L789.4,904.6 L791.4,904.6 L793.3,904.6 L795.2,904.6" stroke="#0000ff" stroke-width="1" stroke-opacity="0.72"/>
<path d="M63.6,899.4 L65.5,899.3 L67.4,899.1 L69.4,899.0 L71.3,898.8 L73.3,898.6 L75.2,898.5 L77.2,898.3 L79.1,898.1 L81.1,897.9 L83.0,897.7 L85.0,897.6 L86.9,897.4 L88.8,897.2 L90.8,897.0 L92.7,896.8 L94.7,896.6 L96.6,896.3 L98.6,896.1 L100.5,895.9 L102.5,895.7 L104.4,895.4 L106.4,895.2 L108.3,895.0 L110.3,894.7 L112.2,894.5 L114.1,894.2 L116.1,893.9 L118.0,893.7 L120.0,893.4 L121.9,893.1 L123.9,892.9 L125.8,892.6 L127.8,892.3 L129.7,892.0 L131.7,891.7 L133.6,891.4 L135.6,891.1 L137.5,890.8 L139.4,890.4 L141.4,890.1 L143.3,889.8 L145.3,889.5 L147.2,889.1 L149.2,888.8 L151.1,888.4 L153.1,888.1 L155.0,887.7 L157.0,887.3 L158.9,887.0 L160.9,886.6 L162.8,886.2 L164.7,885.8 L166.7,885.4 L168.6,885.0 L170.6,884.6 L172.5,884.2 L174.5,883.8 L176.4,883.4 L178.4,883.0 L180.3,882.6 L182.3,882.2 L184.2,881.7 L186.1,881.3 L188.1,880.8 L190.0,880.4 L192.0,879.9 L193.9,879.5 L195.9,879.0 L197.8,878.6 L199.8,878.1 L201.7,877.6 L203.7,877.1 L205.6,876.7 L207.6,876.2 L209.5,875.7 L211.4,875.2 L213.4,874.7 L215.3,874.2 L217.3,873.7 L219.2,873.2 L221.2,872.7 L223.1,872.2 L225.1,871.7 L227.0,871.2 L229.0,870.6 L230.9,870.1 L232.9,869.6 L234.8,869.1 L236.7,868.6 L238.7,868.0 L240.6,867.5 L242.6,867.0 L244.5,866.4 L246.5,865.9 L248.4,865.4 L250.4,864.8 L252.3,864.3 L254.3,863.7 L256.2,863.2 L258.2,862.7 L260.1,862.1 L262.0,861.6 L264.0,861.0 L265.9,860.5 L267.9,860.0 L269.8,859.4 L271.8,858.9 L273.7,858.4 L275.7,857.8 L277.6,857.3 L279.6,856.8 L281.5,856.2 L283.4,855.7 L285.4,855.2 L287.3,854.7 L289.3,854.1 L291.2,853.6 L293.2,853.1 L295.1,852.6 L297.1,852.1 L299.0,851.6 L301.0,851.1 L302.9,850.6 L304.9,850.1 L306.8,849.6 L308.7,849.1 L310.7,848.7 L312.6,848.2 L314.6,847.7 L316.5,847.3 L318.5,846.8 L320.4,846.4 L322.4,845.9 L324.3,845.5 L326.3,845.0 L328.2,844.6 L330.2,844.2 L332.1,843.8 L334.0,843.4 L336.0,843.0 L337.9,842.6 L339.9,842.2 L341.8,841.8 L343.8,841.5 L345.7,841.1 L347.7,840.8 L349.6,840.4 L351.6,840.1 L353.5,839.8 L355.5,839.5 L357.4,839.2 L359.3,838.9 L361.3,838.6 L363.2,838.3 L365.2,838.0 L367.1,837.8 L369.1,837.5 L371.0,837.3 L373.0,837.1 L374.9,836.9 L376.9,836.6 L378.8,836.5 L380.8,836.3 L382.7,836.1 L384.6,835.9 L386.6,835.8 L388.5,835.6 L390.5,835.5 L392.4,835.4 L394.4,835.3 L396.3,835.2 L398.3,835.1 L400.2,835.0 L402.2,834.9 L404.1,834.9 L406.0,834.8 L408.0,834.8 L409.9,834.8 L411.9,834.8 L413.8,834.8 L415.8,834.8 L417.7,834.8 L419.7,834.9 L421.6,834.9 L423.6,835.0 L425.5,835.0 L427.5,835.1 L429.4,835.2 L431.3,835.3 L433.3,835.4 L435.2,835.6 L437.2,835.7 L439.1,835.8 L441.1,836.0 L443.0,836.2 L445.0,836.4 L446.9,836.5 L448.9,836.7 L450.8,837.0 L452.8,837.2 L454.7,837.4 L456.6,837.7 L458.6,837.9 L460.5,838.2 L462.5,838.4 L464.4,838.7 L466.4,839.0 L468.3,839.3 L470.3,839.6 L472.2,839.9 L474.2,840.3 L476.1,840.6 L478.0,841.0 L480.0,841.3 L481.9,841.7 L483.9,842.0 L485.8,842.4 L487.8,842.8 L489.7,843.2 L491.7,843.6 L493.6,844.0 L495.6,844.4 L497.5,844.8 L499.5,845.3 L501.4,845.7 L503.3,846.1 L505.3,846.6 L507.2,847.0 L509.2,847.5 L511.1,848.0 L513.1,848.4 L515.0,848.9 L517.0,849.4 L518.9,849.9 L520.9,850.4 L522.8,850.8 L524.8,851.3 L526.7,851.8 L528.6,852.3 L530.6,852.9 L532.5,853.4 L534.5,853.9 L536.4,854.4 L538.4,854.9 L540.3,855.4 L542.3,856.0 L544.2,856.5 L546.2,857.0 L548.1,857.6 L550.1,858.1 L552.0,858.6 L553.9,859.2 L555.9,859.7 L557.8,860.2 L559.8,860.8 L561.7,861.3 L563.7,861.9 L565.6,862.4 L567.6,862.9 L569.5,863.5 L571.5,864.0 L573.4,864.6 L575.4,865.1 L577.3,865.6 L579.2,866.2 L581.2,866.7 L583.1,867.2 L585.1,867.8 L587.0,868.3 L589.0,868.8 L590.9,869.3 L592.9,869.9 L594.8,870.4 L596.8,870.9 L598.7,871.4 L600.6,871.9 L602.6,872.5 L604.5,873.0 L606.5,873.5 L608.4,874.0 L610.4,874.5 L612.3,875.0 L614.3,875.5 L616.2,875.9 L618.2,876.4 L620.1,876.9 L622.1,877.4 L624.0,877.9 L625.9,878.3 L627.9,878.8 L629.8,879.3 L631.8,879.7 L633.7,880.2 L635.7,880.6 L637.6,881.1 L639.6,881.5 L641.5,881.9 L643.5,882.4 L645.4,882.8 L647.4,883.2 L649.3,883.6 L651.2,884.0 L653.2,884.4 L655.1,884.8 L657.1,885.2 L659.0,885.6 L661.0,886.0 L662.9,886.4 L664.9,886.8 L666.8,887.2 L668.8,887.5 L670.7,887.9 L672.6,888.2 L674.6,888.6 L676.5,888.9 L678.5,889.3 L680.4,889.6 L682.4,890.0 L684.3,890.3 L686.3,890.6 L688.2,890.9 L690.2,891.2 L692.1,891.5 L694.1,891.8 L696.0,892.1 L697.9,892.4 L699.9,892.7 L701.8,893.0 L703.8,893.3 L705.7,893.5 L707.7,893.8 L709.6,894.1 L711.6,894.3 L713.5,894.6 L715.5,894.8 L717.4,895.1 L719.4,895.3 L721.3,895.6 L723.2,895.8 L725.2,896.0 L727.1,896.2 L729.1,896.4 L731.0,896.7 L733.0,896.9 L734.9,897.1 L736.9,897.3 L738.8,897.5 L740.8,897.7 L742.7,897.8 L744.7,898.0 L746.6,898.2 L748.5,898.4 L750.5,898.6 L752.4,898.7 L754.4,898.9 L756.3,899.0 L758.3,899.2 L760.2,899.4 L762.2,899.5 L764.1,899.6 L766.1,899.8 L768.0,899.9 L770.0,900.1 L771.9,900.2 L773.8,900.3 L775.8,900.5 L777.7,900.6 L779.7,900.7 L781.6,900.8 L783.6,900.9 L785.5,901.0 L787.5,901.1 L789.4,901.3 L791.4,901.4 L793.3,901.5 L795.2,901.6" stroke="#0000ff" stroke-width="1" stroke-opacity="0.72"/>
<path d="M63.6,897.9 L65.5,897.8 L67.4,897.7 L69.4,897.7 L71.3,897.6 L73.3,897.5 L75.2,897.4 L77.2,897.4 L79.1,897.3 L81.1,897.2 L83.0,897.2 L85.0,897.1 L86.9,897.0 L88.8,896.9 L90.8,896.8 L92.7,896.8 L94.7,896.7 L96.6,896.6 L98.6,896.5 L100.5,896.4 L102.5,896.3 L104.4,896.3 L106.4,896.2 L108.3,896.1 L110.3,896.0 L112.2,895.9 L114.1,895.8 L116.1,895.7 L118.0,895.6 L120.0,895.5 L121.9,895.4 L123.9,895.3 L125.8,895.2 L127.8,895.1 L129.7,895.0 L131.7,894.9 L133.6,894.7 L135.6,894.6 L137.5,894.5 L139.4,894.4 L141.4,894.3 L143.3,894.1 L145.3,894.0 L147.2,893.9 L149.2,893.8 L151.1,893.6 L153.1,893.5 L155.0,893.4 L157.0,893.2 L158.9,893.1 L160.9,892.9 L162.8,892.8 L164.7,892.6 L166.7,892.5 L168.6,892.3 L170.6,892.2 L172.5,892.0 L174.5,891.8 L176.4,891.7 L178.4,891.5 L180.3,891.3 L182.3,891.1 L184.2,891.0 L186.1,890.8 L188.1,890.6 L190.0,890.4 L192.0,890.2 L193.9,890.0 L195.9,889.8 L197.8,889.6 L199.8,889.4 L201.7,889.1 L203.7,888.9 L205.6,888.7 L207.6,888.4 L209.5,888.2 L211.4,888.0 L213.4,887.7 L215.3,887.5 L217.3,887.2 L219.2,886.9 L221.2,886.7 L223.1,886.4 L225.1,886.1 L227.0,885.8 L229.0,885.5 L230.9,885.2 L232.9,884.9 L234.8,884.6 L236.7,884.2 L238.7,883.9 L240.6,883.5 L242.6,883.2 L244.5,882.8 L246.5,882.5 L248.4,882.1 L250.4,881.7 L252.3,881.3 L254.3,880.9 L256.2,880.5 L258.2,880.0 L260.1,879.6 L262.0,879.1 L264.0,878.7 L265.9,878.2 L267.9,877.7 L269.8,877.2 L271.8,876.7 L273.7,876.1 L275.7,875.6 L277.6,875.0 L279.6,874.4 L281.5,873.8 L283.4,873.2 L285.4,872.6 L287.3,871.9 L289.3,871.3 L291.2,870.6 L293.2,869.9 L295.1,869.2 L297.1,868.4 L299.0,867.6 L301.0,866.8 L302.9,866.0 L304.9,865.2 L306.8,864.3 L308.7,863.4 L310.7,862.5 L312.6,861.5 L314.6,860.5 L316.5,859.5 L318.5,858.4 L320.4,857.3 L322.4,856.2 L324.3,855.0 L326.3,853.8 L328.2,852.6 L330.2,851.3 L332.1,850.0 L334.0,848.6 L336.0,847.2 L337.9,845.7 L339.9,844.2 L341.8,842.6 L343.8,841.0 L345.7,839.3 L347.7,837.5 L349.6,835.7 L351.6,833.8 L353.5,831.9 L355.5,829.8 L357.4,827.8 L359.3,825.6 L361.3,823.3 L363.2,821.0 L365.2,818.6 L367.1,816.1 L369.1,813.5 L371.0,810.8 L373.0,808.0 L374.9,805.1 L376.9,802.1 L378.8,799.1 L380.8,795.9 L382.7,792.5 L384.6,789.1 L386.6,785.6 L388.5,781.9 L390.5,778.2 L392.4,774.3 L394.4,770.3 L396.3,766.1 L398.3,761.9 L400.2,757.5 L402.2,753.1 L404.1,748.5 L406.0,743.8 L408.0,739.1 L409.9,734.3 L411.9,729.3 L413.8,724.4 L415.8,719.4 L417.7,714.3 L419.7,709.3 L421.6,704.2 L423.6,699.2 L425.5,694.3 L427.5,689.4 L429.4,684.7 L431.3,680.1 L433.3,675.7 L435.2,671.5 L437.2,667.5 L439.1,663.9 L441.1,660.5 L443.0,657.5 L445.0,654.8 L446.9,652.6 L448.9,650.7 L450.8,649.3 L452.8,648.4 L454.7,647.9 L456.6,647.9 L458.6,648.4 L460.5,649.3 L462.5,650.7 L464.4,652.6 L466.4,654.8 L468.3,657.5 L470.3,660.5 L472.2,663.9 L474.2,667.5 L476.1,671.5 L478.0,675.7 L480.0,680.1 L481.9,684.7 L483.9,689.4 L485.8,694.3 L487.8,699.2 L489.7,704.2 L491.7,709.3 L493.6,714.3 L495.6,719.4 L497.5,724.4 L499.5,729.3 L501.4,734.3 L503.3,739.1 L505.3,743.8 L507.2,748.5 L509.2,753.1 L511.1,757.5 L513.1,761.9 L515.0,766.1 L517.0,770.3 L518.9,774.3 L520.9,778.2 L522.8,781.9 L524.8,785.6 L526.7,789.1 L528.6,792.5 L530.6,795.9 L532.5,799.1 L534.5,802.1 L536.4,805.1 L538.4,808.0 L540.3,810.8 L542.3,813.5 L544.2,816.1 L546.2,818.6 L548.1,821.0 L550.1,823.3 L552.0,825.6 L553.9,827.8 L555.9,829.8 L557.8,831.9 L559.8,833.8 L561.7,835.7 L563.7,837.5 L565.6,839.3 L567.6,841.0 L569.5,842.6 L571.5,844.2 L573.4,845.7 L575.4,847.2 L577.3,848.6 L579.2,850.0 L581.2,851.3 L583.1,852.6 L585.1,853.8 L587.0,855.0 L589.0,856.2 L590.9,857.3 L592.9,858.4 L594.8,859.5 L596.8,860.5 L598.7,861.5 L600.6,862.5 L602.6,863.4 L604.5,864.3 L606.5,865.2 L608.4,866.0 L610.4,866.8 L612.3,867.6 L614.3,868.4 L616.2,869.2 L618.2,869.9 L620.1,870.6 L622.1,871.3 L624.0,871.9 L625.9,872.6 L627.9,873.2 L629.8,873.8 L631.8,874.4 L633.7,875.0 L635.7,875.6 L637.6,876.1 L639.6,876.7 L641.5,877.2 L643.5,877.7 L645.4,878.2 L647.4,878.7 L649.3,879.1 L651.2,879.6 L653.2,880.0 L655.1,880.5 L657.1,880.9 L659.0,881.3 L661.0,881.7 L662.9,882.1 L664.9,882.5 L666.8,882.8 L668.8,883.2 L670.7,883.5 L672.6,883.9 L674.6,884.2 L676.5,884.6 L678.5,884.9 L680.4,885.2 L682.4,885.5 L684.3,885.8 L686.3,886.1 L688.2,886.4 L690.2,886.7 L692.1,886.9 L694.1,887.2 L696.0,887.5 L697.9,887.7 L699.9,888.0 L701.8,888.2 L703.8,888.4 L705.7,888.7 L707.7,888.9 L709.6,889.1 L711.6,889.4 L713.5,889.6 L715.5,889.8 L717.4,890.0 L719.4,890.2 L721.3,890.4 L723.2,890.6 L725.2,890.8 L727.1,891.0 L729.1,891.1 L731.0,891.3 L733.0,891.5 L734.9,891.7 L736.9,891.8 L738.8,892.0 L740.8,892.2 L742.7,892.3 L744.7,892.5 L746.6,892.6 L748.5,892.8 L750.5,892.9 L752.4,893.1 L754.4,893.2 L756.3,893.4 L758.3,893.5 L760.2,893.6 L762.2,893.8 L764.1,893.9 L766.1,894.0 L768.0,894.1 L770.0,894.3 L771.9,894.4 L773.8,894.5 L775.8,894.6 L777.7,894.7 L779.7,894.9 L781.6,895.0 L783.6,895.1 L785.5,895.2 L787.5,895.3 L789.4,895.4 L791.4,895.5 L793.3,895.6 L795.2,895.7" stroke="#c4480e" stroke-width="1" stroke-opacity="0.72"/>
<path d="M63.6,904.6 L65.5,904.6 L67.4,904.6 L69.4,904.6 L71.3,904.6 L73.3,904.6 L75.2,904.6 L77.2,904.6 L79.1,904.6 L81.1,904.6 L83.0,904.6 L85.0,904.6 L86.9,904.6 L88.8,904.6 L90.8,904.6 L92.7,904.6 L94.7,904.6 L96.6,904.6 L98.6,904.6 L100.5,904.6 L102.5,904.6 L104.4,904.6 L106.4,904.6 L108.3,904.6 L110.3,904.6 L112.2,904.6 L114.1,904.6 L116.1,904.6 L118.0,904.6 L120.0,904.6 L121.9,904.6 L123.9,904.6 L125.8,904.6 L127.8,904.6 L129.7,904.6 L131.7,904.6 L133.6,904.6 L135.6,904.6 L137.5,904.6 L139.4,904.6 L141.4,904.6 L143.3,904.6 L145.3,904.6 L147.2,904.6 L149.2,904.6 L151.1,904.6 L153.1,904.6 L155.0,904.6 L157.0,904.6 L158.9,904.6 L160.9,904.6 L162.8,904.6 L164.7,904.6 L166.7,904.6 L168.6,904.6 L170.6,904.6 L172.5,904.6 L174.5,904.6 L176.4,904.6 L178.4,904.5 L180.3,904.5 L182.3,904.5 L184.2,904.5 L186.1,904.5 L188.1,904.5 L190.0,904.5 L192.0,904.5 L193.9,904.5 L195.9,904.5 L197.8,904.5 L199.8,904.5 L201.7,904.5 L203.7,904.5 L205.6,904.5 L207.6,904.5 L209.5,904.5 L211.4,904.5 L213.4,904.5 L215.3,904.5 L217.3,904.4 L219.2,904.4 L221.2,904.4 L223.1,904.4 L225.1,904.4 L227.0,904.3 L229.0,904.3 L230.9,904.3 L232.9,904.3 L234.8,904.2 L236.7,904.2 L238.7,904.2 L240.6,904.1 L242.6,904.1 L244.5,904.0 L246.5,904.0 L248.4,903.9 L250.4,903.8 L252.3,903.8 L254.3,903.7 L256.2,903.6 L258.2,903.5 L260.1,903.4 L262.0,903.3 L264.0,903.2 L265.9,903.0 L267.9,902.9 L269.8,902.7 L271.8,902.6 L273.7,902.4 L275.7,902.2 L277.6,902.0 L279.6,901.7 L281.5,901.5 L283.4,901.2 L285.4,901.0 L287.3,900.7 L289.3,900.3 L291.2,900.0 L293.2,899.6 L295.1,899.2 L297.1,898.8 L299.0,898.4 L301.0,897.9 L302.9,897.4 L304.9,896.9 L306.8,896.3 L308.7,895.7 L310.7,895.0 L312.6,894.4 L314.6,893.7 L316.5,892.9 L318.5,892.1 L320.4,891.3 L322.4,890.4 L324.3,889.5 L326.3,888.5 L328.2,887.5 L330.2,886.5 L332.1,885.4 L334.0,884.2 L336.0,883.0 L337.9,881.8 L339.9,880.5 L341.8,879.1 L343.8,877.7 L345.7,876.3 L347.7,874.8 L349.6,873.2 L351.6,871.6 L353.5,870.0 L355.5,868.3 L357.4,866.6 L359.3,864.8 L361.3,862.9 L363.2,861.0 L365.2,859.1 L367.1,857.1 L369.1,855.1 L371.0,853.1 L373.0,851.0 L374.9,848.9 L376.9,846.7 L378.8,844.5 L380.8,842.3 L382.7,840.1 L384.6,837.9 L386.6,835.6 L388.5,833.4 L390.5,831.1 L392.4,828.8 L394.4,826.5 L396.3,824.3 L398.3,822.0 L400.2,819.8 L402.2,817.6 L404.1,815.4 L406.0,813.2 L408.0,811.1 L409.9,809.0 L411.9,806.9 L413.8,804.9 L415.8,803.0 L417.7,801.1 L419.7,799.2 L421.6,797.5 L423.6,795.8 L425.5,794.2 L427.5,792.6 L429.4,791.2 L431.3,789.8 L433.3,788.5 L435.2,787.3 L437.2,786.2 L439.1,785.3 L441.1,784.4 L443.0,783.6 L445.0,782.9 L446.9,782.4 L448.9,781.9 L450.8,781.6 L452.8,781.3 L454.7,781.2 L456.6,781.2 L458.6,781.3 L460.5,781.6 L462.5,781.9 L464.4,782.4 L466.4,782.9 L468.3,783.6 L470.3,784.4 L472.2,785.3 L474.2,786.2 L476.1,787.3 L478.0,788.5 L480.0,789.8 L481.9,791.2 L483.9,792.6 L485.8,794.2 L487.8,795.8 L489.7,797.5 L491.7,799.2 L493.6,801.1 L495.6,803.0 L497.5,804.9 L499.5,806.9 L501.4,809.0 L503.3,811.1 L505.3,813.2 L507.2,815.4 L509.2,817.6 L511.1,819.8 L513.1,822.0 L515.0,824.3 L517.0,826.5 L518.9,828.8 L520.9,831.1 L522.8,833.4 L524.8,835.6 L526.7,837.9 L528.6,840.1 L530.6,842.3 L532.5,844.5 L534.5,846.7 L536.4,848.9 L538.4,851.0 L540.3,853.1 L542.3,855.1 L544.2,857.1 L546.2,859.1 L548.1,861.0 L550.1,862.9 L552.0,864.8 L553.9,866.6 L555.9,868.3 L557.8,870.0 L559.8,871.6 L561.7,873.2 L563.7,874.8 L565.6,876.3 L567.6,877.7 L569.5,879.1 L571.5,880.5 L573.4,881.8 L575.4,883.0 L577.3,884.2 L579.2,885.4 L581.2,886.5 L583.1,887.5 L585.1,888.5 L587.0,889.5 L589.0,890.4 L590.9,891.3 L592.9,892.1 L594.8,892.9 L596.8,893.7 L598.7,894.4 L600.6,895.0 L602.6,895.7 L604.5,896.3 L606.5,896.9 L608.4,897.4 L610.4,897.9 L612.3,898.4 L614.3,898.8 L616.2,899.2 L618.2,899.6 L620.1,900.0 L622.1,900.3 L624.0,900.7 L625.9,901.0 L627.9,901.2 L629.8,901.5 L631.8,901.7 L633.7,902.0 L635.7,902.2 L637.6,902.4 L639.6,902.6 L641.5,902.7 L643.5,902.9 L645.4,903.0 L647.4,903.2 L649.3,903.3 L651.2,903.4 L653.2,903.5 L655.1,903.6 L657.1,903.7 L659.0,903.8 L661.0,903.8 L662.9,903.9 L664.9,904.0 L666.8,904.0 L668.8,904.1 L670.7,904.1 L672.6,904.2 L674.6,904.2 L676.5,904.2 L678.5,904.3 L680.4,904.3 L682.4,904.3 L684.3,904.3 L686.3,904.4 L688.2,904.4 L690.2,904.4 L692.1,904.4 L694.1,904.4 L696.0,904.5 L697.9,904.5 L699.9,904.5 L701.8,904.5 L703.8,904.5 L705.7,904.5 L707.7,904.5 L709.6,904.5 L711.6,904.5 L713.5,904.5 L715.5,904.5 L717.4,904.5 L719.4,904.5 L721.3,904.5 L723.2,904.5 L725.2,904.5 L727.1,904.5 L729.1,904.5 L731.0,904.5 L733.0,904.5 L734.9,904.6 L736.9,904.6 L738.8,904.6 L740.8,904.6 L742.7,904.6 L744.7,904.6 L746.6,904.6 L748.5,904.6 L750.5,904.6 L752.4,904.6 L754.4,904.6 L756.3,904.6 L758.3,904.6 L760.2,904.6 L762.2,904.6 L764.1,904.6 L766.1,904.6 L768.0,904.6 L770.0,904.6 L771.9,904.6 L773.8,904.6 L775.8,904.6 L777.7,904.6 L779.7,904.6 L781.6,904.6 L783.6,904.6 L785.5,904.6 L787.5,904.6 L789.4,904.6 L791.4,904.6 L793.3,904.6 L795.2,904.6" stroke="#c4480e" stroke-width="1" stroke-opacity="0.72"/>
<path d="M386.6,751.9H407.0M396.8,742.9V760.9" stroke="#0000ff" stroke-width="1.15"/>
<path d="M512.1,751.9H532.5M522.3,742.9V760.9" stroke="#0000ff" stroke-width="1.15"/>
<path d="M377.1,714.5H397.5M387.3,705.5V723.5" stroke="#c4480e" stroke-width="1.15"/>
<path d="M513.8,714.5H534.2M524.0,705.5V723.5" stroke="#c4480e" stroke-width="1.15"/>
<path d="M64.5,904.1H69.3V871.4H73.3V886.9H77.3V902.6H81.4V886.9H85.4V913.0H89.4V895.6H93.4V877.9H97.4V892.1H101.4V891.6H105.5V897.1H109.5V905.1H113.5V887.1H117.5V884.1H121.5V896.6H125.5V877.9H129.5V922.0H133.6V892.8H137.6V875.2H141.6V860.2H145.6V875.2H149.6V897.6H153.6V923.2H157.6V905.8H161.7V900.3H165.7V859.7H169.7V904.6H173.7V876.0H177.7V900.6H181.7V882.4H185.7V887.4H189.8V863.9H193.8V894.1H197.8V905.3H201.8V879.9H205.8V874.7H209.8V877.9H213.9V884.9H217.9V856.7H221.9V834.3H225.9V881.1H229.9V835.8H233.9V877.3H237.9V882.4H242.0V846.5H246.0V822.8H250.0V857.2H254.0V881.4H258.0V841.6H262.0V834.0H266.0V850.5H270.1V853.0H274.1V843.1H278.1V853.0H282.1V879.4H286.1V856.1H290.1V862.3H294.2V851.0H298.2V859.8H302.2V871.8H306.2V852.3H310.2V836.0H314.2V842.3H318.2V849.1H322.3V856.1H326.3V859.2H330.3V820.3H334.3V821.1H338.3V806.7H342.3V825.3H346.3V825.3H350.4V780.7H354.4V802.9H358.4V779.5H362.4V789.8H366.4V747.3H370.4V727.5H374.5V750.8H378.5V728.3H382.5V700.7H386.5V712.7H390.5V670.6H394.5V687.8H398.5V651.9H402.6V657.9H406.6V683.9H410.6V657.9H414.6V618.8H418.6V597.4H422.6V604.2H426.6V608.5H430.7V585.0H434.7V561.7H438.7V556.9H442.7V548.3H446.7V503.8H450.7V530.3H454.8V495.1H458.8V529.0H462.8V531.8H466.8V507.1H470.8V545.1H474.8V558.5H478.8V549.1H482.9V560.1H486.9V556.9H490.9V604.6H494.9V624.6H498.9V657.4H502.9V668.3H506.9V663.6H511.0V659.7H515.0V687.3H519.0V705.3H523.0V722.2H527.0V736.1H531.0V719.1H535.1V751.8H539.1V748.7H543.1V760.9H547.1V806.4H551.1V782.6H555.1V777.0H559.1V789.7H563.2V809.6H567.2V803.9H571.2V811.9H575.2V811.9H579.2V861.9H583.2V859.5H587.2V832.8H591.3V825.6H595.3V857.3H599.3V863.6H603.3V890.2H607.3V890.2H611.3V902.6H615.4V850.9H619.4V911.0H623.4V872.9H627.4V870.3H631.4V890.9H635.4V903.2H639.4V890.9H643.5V884.0H647.5V883.4H651.5V891.4H655.5V890.9H659.5V876.7H663.5V867.3H667.5V887.9H671.6V914.8H675.6V884.0H679.6V877.5H683.6V880.5H687.6V896.0H691.6V923.6H695.7V908.1H699.7V874.0H703.7V905.4H707.7V896.6H711.7V875.5H715.7V909.8H719.7V907.3H723.8V902.9H727.8V875.9H731.8V895.1H735.8V861.0H739.8V916.4H743.8V909.8H747.8V882.5H751.9V877.5H755.9V903.1H759.9V899.1H763.9V923.6H767.9V927.7H771.9V882.5H776.0V896.8H780.0V891.4H784.0V886.5H788.0V923.2H792.0V930.5H795.3V930.5H795.3" stroke="#08661a" stroke-width="2.2"/>
<path d="M63.6,899.4 L65.5,899.3 L67.4,899.1 L69.4,899.0 L71.3,898.8 L73.3,898.6 L75.2,898.5 L77.2,898.3 L79.1,898.1 L81.1,897.9 L83.0,897.7 L85.0,897.6 L86.9,897.4 L88.8,897.2 L90.8,897.0 L92.7,896.8 L94.7,896.6 L96.6,896.3 L98.6,896.1 L100.5,895.9 L102.5,895.7 L104.4,895.4 L106.4,895.2 L108.3,895.0 L110.3,894.7 L112.2,894.5 L114.1,894.2 L116.1,893.9 L118.0,893.7 L120.0,893.4 L121.9,893.1 L123.9,892.9 L125.8,892.6 L127.8,892.3 L129.7,892.0 L131.7,891.7 L133.6,891.4 L135.6,891.1 L137.5,890.8 L139.4,890.4 L141.4,890.1 L143.3,889.8 L145.3,889.5 L147.2,889.1 L149.2,888.8 L151.1,888.4 L153.1,888.1 L155.0,887.7 L157.0,887.3 L158.9,887.0 L160.9,886.6 L162.8,886.2 L164.7,885.8 L166.7,885.4 L168.6,885.0 L170.6,884.6 L172.5,884.2 L174.5,883.8 L176.4,883.4 L178.4,883.0 L180.3,882.6 L182.3,882.2 L184.2,881.7 L186.1,881.3 L188.1,880.8 L190.0,880.4 L192.0,879.9 L193.9,879.5 L195.9,879.0 L197.8,878.6 L199.8,878.1 L201.7,877.6 L203.7,877.1 L205.6,876.7 L207.6,876.2 L209.5,875.7 L211.4,875.2 L213.4,874.7 L215.3,874.2 L217.3,873.7 L219.2,873.2 L221.2,872.7 L223.1,872.2 L225.1,871.7 L227.0,871.1 L229.0,870.6 L230.9,870.1 L232.9,869.6 L234.8,869.0 L236.7,868.5 L238.7,868.0 L240.6,867.4 L242.6,866.9 L244.5,866.3 L246.5,865.8 L248.4,865.2 L250.4,864.7 L252.3,864.1 L254.3,863.6 L256.2,863.0 L258.2,862.4 L260.1,861.8 L262.0,861.3 L264.0,860.7 L265.9,860.1 L267.9,859.5 L269.8,858.9 L271.8,858.3 L273.7,857.7 L275.7,857.0 L277.6,856.4 L279.6,855.7 L281.5,855.1 L283.4,854.4 L285.4,853.7 L287.3,853.0 L289.3,852.3 L291.2,851.5 L293.2,850.8 L295.1,850.0 L297.1,849.2 L299.0,848.3 L301.0,847.4 L302.9,846.5 L304.9,845.6 L306.8,844.6 L308.7,843.6 L310.7,842.5 L312.6,841.4 L314.6,840.2 L316.5,838.9 L318.5,837.6 L320.4,836.2 L322.4,834.8 L324.3,833.3 L326.3,831.7 L328.2,830.0 L330.2,828.2 L332.1,826.3 L334.0,824.3 L336.0,822.2 L337.9,820.0 L339.9,817.7 L341.8,815.2 L343.8,812.6 L345.7,809.9 L347.7,807.1 L349.6,804.1 L351.6,800.9 L353.5,797.6 L355.5,794.2 L357.4,790.5 L359.3,786.7 L361.3,782.8 L363.2,778.7 L365.2,774.4 L367.1,769.9 L369.1,765.3 L371.0,760.5 L373.0,755.5 L374.9,750.4 L376.9,745.0 L378.8,739.6 L380.8,733.9 L382.7,728.2 L384.6,722.2 L386.6,716.2 L388.5,710.0 L390.5,703.7 L392.4,697.3 L394.4,690.8 L396.3,684.2 L398.3,677.5 L400.2,670.8 L402.2,664.0 L404.1,657.2 L406.0,650.4 L408.0,643.6 L409.9,636.9 L411.9,630.2 L413.8,623.5 L415.8,616.9 L417.7,610.5 L419.7,604.2 L421.6,598.0 L423.6,592.0 L425.5,586.1 L427.5,580.5 L429.4,575.1 L431.3,570.0 L433.3,565.1 L435.2,560.5 L437.2,556.2 L439.1,552.2 L441.1,548.6 L443.0,545.3 L445.0,542.3 L446.9,539.8 L448.9,537.6 L450.8,535.8 L452.8,534.4 L454.7,533.4 L456.6,532.8 L458.6,532.7 L460.5,533.0 L462.5,533.6 L464.4,534.7 L466.4,536.2 L468.3,538.1 L470.3,540.4 L472.2,543.1 L474.2,546.2 L476.1,549.7 L478.0,553.5 L480.0,557.7 L481.9,562.1 L483.9,567.0 L485.8,572.1 L487.8,577.4 L489.7,583.1 L491.7,589.0 L493.6,595.1 L495.6,601.4 L497.5,607.9 L499.5,614.6 L501.4,621.4 L503.3,628.3 L505.3,635.3 L507.2,642.4 L509.2,649.6 L511.1,656.8 L513.1,664.0 L515.0,671.2 L517.0,678.5 L518.9,685.6 L520.9,692.8 L522.8,699.8 L524.8,706.8 L526.7,713.7 L528.6,720.5 L530.6,727.2 L532.5,733.8 L534.5,740.2 L536.4,746.5 L538.4,752.6 L540.3,758.6 L542.3,764.4 L544.2,770.0 L546.2,775.5 L548.1,780.7 L550.1,785.8 L552.0,790.8 L553.9,795.5 L555.9,800.1 L557.8,804.4 L559.8,808.7 L561.7,812.7 L563.7,816.5 L565.6,820.2 L567.6,823.7 L569.5,827.1 L571.5,830.3 L573.4,833.4 L575.4,836.2 L577.3,839.0 L579.2,841.6 L581.2,844.1 L583.1,846.4 L585.1,848.7 L587.0,850.8 L589.0,852.8 L590.9,854.7 L592.9,856.5 L594.8,858.2 L596.8,859.8 L598.7,861.3 L600.6,862.7 L602.6,864.1 L604.5,865.4 L606.5,866.6 L608.4,867.8 L610.4,868.9 L612.3,869.9 L614.3,870.9 L616.2,871.9 L618.2,872.8 L620.1,873.6 L622.1,874.5 L624.0,875.2 L625.9,876.0 L627.9,876.7 L629.8,877.4 L631.8,878.1 L633.7,878.7 L635.7,879.3 L637.6,879.9 L639.6,880.5 L641.5,881.0 L643.5,881.6 L645.4,882.1 L647.4,882.6 L649.3,883.1 L651.2,883.6 L653.2,884.0 L655.1,884.5 L657.1,884.9 L659.0,885.4 L661.0,885.8 L662.9,886.2 L664.9,886.6 L666.8,887.0 L668.8,887.4 L670.7,887.8 L672.6,888.1 L674.6,888.5 L676.5,888.9 L678.5,889.2 L680.4,889.6 L682.4,889.9 L684.3,890.2 L686.3,890.6 L688.2,890.9 L690.2,891.2 L692.1,891.5 L694.1,891.8 L696.0,892.1 L697.9,892.4 L699.9,892.7 L701.8,893.0 L703.8,893.3 L705.7,893.5 L707.7,893.8 L709.6,894.1 L711.6,894.3 L713.5,894.6 L715.5,894.8 L717.4,895.1 L719.4,895.3 L721.3,895.5 L723.2,895.8 L725.2,896.0 L727.1,896.2 L729.1,896.4 L731.0,896.7 L733.0,896.9 L734.9,897.1 L736.9,897.3 L738.8,897.5 L740.8,897.7 L742.7,897.8 L744.7,898.0 L746.6,898.2 L748.5,898.4 L750.5,898.6 L752.4,898.7 L754.4,898.9 L756.3,899.0 L758.3,899.2 L760.2,899.4 L762.2,899.5 L764.1,899.6 L766.1,899.8 L768.0,899.9 L770.0,900.1 L771.9,900.2 L773.8,900.3 L775.8,900.5 L777.7,900.6 L779.7,900.7 L781.6,900.8 L783.6,900.9 L785.5,901.0 L787.5,901.1 L789.4,901.3 L791.4,901.4 L793.3,901.5 L795.2,901.6" stroke="#0000ff" stroke-width="2.45" stroke-linejoin="round"/>
<path d="M63.6,897.9 L65.5,897.8 L67.4,897.7 L69.4,897.7 L71.3,897.6 L73.3,897.5 L75.2,897.4 L77.2,897.4 L79.1,897.3 L81.1,897.2 L83.0,897.2 L85.0,897.1 L86.9,897.0 L88.8,896.9 L90.8,896.8 L92.7,896.8 L94.7,896.7 L96.6,896.6 L98.6,896.5 L100.5,896.4 L102.5,896.3 L104.4,896.3 L106.4,896.2 L108.3,896.1 L110.3,896.0 L112.2,895.9 L114.1,895.8 L116.1,895.7 L118.0,895.6 L120.0,895.5 L121.9,895.4 L123.9,895.3 L125.8,895.2 L127.8,895.1 L129.7,895.0 L131.7,894.9 L133.6,894.7 L135.6,894.6 L137.5,894.5 L139.4,894.4 L141.4,894.3 L143.3,894.1 L145.3,894.0 L147.2,893.9 L149.2,893.8 L151.1,893.6 L153.1,893.5 L155.0,893.4 L157.0,893.2 L158.9,893.1 L160.9,892.9 L162.8,892.8 L164.7,892.6 L166.7,892.5 L168.6,892.3 L170.6,892.2 L172.5,892.0 L174.5,891.8 L176.4,891.7 L178.4,891.5 L180.3,891.3 L182.3,891.1 L184.2,890.9 L186.1,890.8 L188.1,890.6 L190.0,890.4 L192.0,890.2 L193.9,890.0 L195.9,889.7 L197.8,889.5 L199.8,889.3 L201.7,889.1 L203.7,888.9 L205.6,888.6 L207.6,888.4 L209.5,888.1 L211.4,887.9 L213.4,887.6 L215.3,887.3 L217.3,887.1 L219.2,886.8 L221.2,886.5 L223.1,886.2 L225.1,885.9 L227.0,885.6 L229.0,885.3 L230.9,884.9 L232.9,884.6 L234.8,884.2 L236.7,883.9 L238.7,883.5 L240.6,883.1 L242.6,882.7 L244.5,882.3 L246.5,881.9 L248.4,881.4 L250.4,881.0 L252.3,880.5 L254.3,880.0 L256.2,879.5 L258.2,879.0 L260.1,878.4 L262.0,877.8 L264.0,877.3 L265.9,876.6 L267.9,876.0 L269.8,875.3 L271.8,874.7 L273.7,873.9 L275.7,873.2 L277.6,872.4 L279.6,871.6 L281.5,870.8 L283.4,869.9 L285.4,869.0 L287.3,868.0 L289.3,867.1 L291.2,866.0 L293.2,864.9 L295.1,863.8 L297.1,862.7 L299.0,861.4 L301.0,860.2 L302.9,858.8 L304.9,857.5 L306.8,856.0 L308.7,854.5 L310.7,852.9 L312.6,851.3 L314.6,849.6 L316.5,847.8 L318.5,846.0 L320.4,844.1 L322.4,842.1 L324.3,840.0 L326.3,837.8 L328.2,835.6 L330.2,833.2 L332.1,830.8 L334.0,828.3 L336.0,825.7 L337.9,822.9 L339.9,820.1 L341.8,817.2 L343.8,814.2 L345.7,811.0 L347.7,807.8 L349.6,804.4 L351.6,800.9 L353.5,797.3 L355.5,793.6 L357.4,789.7 L359.3,785.8 L361.3,781.7 L363.2,777.5 L365.2,773.1 L367.1,768.6 L369.1,764.0 L371.0,759.3 L373.0,754.4 L374.9,749.4 L376.9,744.3 L378.8,739.0 L380.8,733.6 L382.7,728.1 L384.6,722.4 L386.6,716.6 L388.5,710.7 L390.5,704.7 L392.4,698.5 L394.4,692.2 L396.3,685.8 L398.3,679.3 L400.2,672.8 L402.2,666.1 L404.1,659.3 L406.0,652.5 L408.0,645.6 L409.9,638.7 L411.9,631.7 L413.8,624.7 L415.8,617.8 L417.7,610.8 L419.7,603.9 L421.6,597.1 L423.6,590.4 L425.5,583.9 L427.5,577.5 L429.4,571.3 L431.3,565.3 L433.3,559.6 L435.2,554.2 L437.2,549.2 L439.1,544.5 L441.1,540.3 L443.0,536.5 L445.0,533.2 L446.9,530.4 L448.9,528.1 L450.8,526.4 L452.8,525.2 L454.7,524.6 L456.6,524.6 L458.6,525.2 L460.5,526.4 L462.5,528.1 L464.4,530.4 L466.4,533.2 L468.3,536.5 L470.3,540.3 L472.2,544.5 L474.2,549.2 L476.1,554.2 L478.0,559.6 L480.0,565.3 L481.9,571.3 L483.9,577.5 L485.8,583.9 L487.8,590.4 L489.7,597.1 L491.7,603.9 L493.6,610.8 L495.6,617.8 L497.5,624.7 L499.5,631.7 L501.4,638.7 L503.3,645.6 L505.3,652.5 L507.2,659.3 L509.2,666.1 L511.1,672.8 L513.1,679.3 L515.0,685.8 L517.0,692.2 L518.9,698.5 L520.9,704.7 L522.8,710.7 L524.8,716.6 L526.7,722.4 L528.6,728.1 L530.6,733.6 L532.5,739.0 L534.5,744.3 L536.4,749.4 L538.4,754.4 L540.3,759.3 L542.3,764.0 L544.2,768.6 L546.2,773.1 L548.1,777.5 L550.1,781.7 L552.0,785.8 L553.9,789.7 L555.9,793.6 L557.8,797.3 L559.8,800.9 L561.7,804.4 L563.7,807.8 L565.6,811.0 L567.6,814.2 L569.5,817.2 L571.5,820.1 L573.4,822.9 L575.4,825.7 L577.3,828.3 L579.2,830.8 L581.2,833.2 L583.1,835.6 L585.1,837.8 L587.0,840.0 L589.0,842.1 L590.9,844.1 L592.9,846.0 L594.8,847.8 L596.8,849.6 L598.7,851.3 L600.6,852.9 L602.6,854.5 L604.5,856.0 L606.5,857.5 L608.4,858.8 L610.4,860.2 L612.3,861.4 L614.3,862.7 L616.2,863.8 L618.2,864.9 L620.1,866.0 L622.1,867.1 L624.0,868.0 L625.9,869.0 L627.9,869.9 L629.8,870.8 L631.8,871.6 L633.7,872.4 L635.7,873.2 L637.6,873.9 L639.6,874.7 L641.5,875.3 L643.5,876.0 L645.4,876.6 L647.4,877.3 L649.3,877.8 L651.2,878.4 L653.2,879.0 L655.1,879.5 L657.1,880.0 L659.0,880.5 L661.0,881.0 L662.9,881.4 L664.9,881.9 L666.8,882.3 L668.8,882.7 L670.7,883.1 L672.6,883.5 L674.6,883.9 L676.5,884.2 L678.5,884.6 L680.4,884.9 L682.4,885.3 L684.3,885.6 L686.3,885.9 L688.2,886.2 L690.2,886.5 L692.1,886.8 L694.1,887.1 L696.0,887.3 L697.9,887.6 L699.9,887.9 L701.8,888.1 L703.8,888.4 L705.7,888.6 L707.7,888.9 L709.6,889.1 L711.6,889.3 L713.5,889.5 L715.5,889.7 L717.4,890.0 L719.4,890.2 L721.3,890.4 L723.2,890.6 L725.2,890.8 L727.1,890.9 L729.1,891.1 L731.0,891.3 L733.0,891.5 L734.9,891.7 L736.9,891.8 L738.8,892.0 L740.8,892.2 L742.7,892.3 L744.7,892.5 L746.6,892.6 L748.5,892.8 L750.5,892.9 L752.4,893.1 L754.4,893.2 L756.3,893.4 L758.3,893.5 L760.2,893.6 L762.2,893.8 L764.1,893.9 L766.1,894.0 L768.0,894.1 L770.0,894.3 L771.9,894.4 L773.8,894.5 L775.8,894.6 L777.7,894.7 L779.7,894.9 L781.6,895.0 L783.6,895.1 L785.5,895.2 L787.5,895.3 L789.4,895.4 L791.4,895.5 L793.3,895.6 L795.2,895.7" stroke="#c4480e" stroke-width="2.3" stroke-linejoin="round"/>
</g>
<g stroke="#000" fill="none">
<rect x="64.5" y="7.4" width="729.8" height="947.0" stroke-width="1.3"/>
<path d="M64.5,480.9H794.3" stroke-width="1.3"/>
<path d="M69.4,7.4v3.2M69.4,477.7v6.4M69.4,954.4v-3.2M79.1,7.4v3.2M79.1,477.7v6.4M79.1,954.4v-3.2M88.8,7.4v3.2M88.8,477.7v6.4M88.8,954.4v-3.2M98.6,7.4v3.2M98.6,477.7v6.4M98.6,954.4v-3.2M108.3,7.4v3.2M108.3,477.7v6.4M108.3,954.4v-3.2M118.0,7.4v3.2M118.0,477.7v6.4M118.0,954.4v-3.2M127.8,7.4v3.2M127.8,477.7v6.4M127.8,954.4v-3.2M137.5,7.4v6.3M137.5,474.6v12.6M137.5,954.4v-6.3M147.2,7.4v3.2M147.2,477.7v6.4M147.2,954.4v-3.2M157.0,7.4v3.2M157.0,477.7v6.4M157.0,954.4v-3.2M166.7,7.4v3.2M166.7,477.7v6.4M166.7,954.4v-3.2M176.4,7.4v3.2M176.4,477.7v6.4M176.4,954.4v-3.2M186.1,7.4v3.2M186.1,477.7v6.4M186.1,954.4v-3.2M195.9,7.4v3.2M195.9,477.7v6.4M195.9,954.4v-3.2M205.6,7.4v3.2M205.6,477.7v6.4M205.6,954.4v-3.2M215.3,7.4v3.2M215.3,477.7v6.4M215.3,954.4v-3.2M225.1,7.4v3.2M225.1,477.7v6.4M225.1,954.4v-3.2M234.8,7.4v6.3M234.8,474.6v12.6M234.8,954.4v-6.3M244.5,7.4v3.2M244.5,477.7v6.4M244.5,954.4v-3.2M254.3,7.4v3.2M254.3,477.7v6.4M254.3,954.4v-3.2M264.0,7.4v3.2M264.0,477.7v6.4M264.0,954.4v-3.2M273.7,7.4v3.2M273.7,477.7v6.4M273.7,954.4v-3.2M283.4,7.4v3.2M283.4,477.7v6.4M283.4,954.4v-3.2M293.2,7.4v3.2M293.2,477.7v6.4M293.2,954.4v-3.2M302.9,7.4v3.2M302.9,477.7v6.4M302.9,954.4v-3.2M312.6,7.4v3.2M312.6,477.7v6.4M312.6,954.4v-3.2M322.4,7.4v3.2M322.4,477.7v6.4M322.4,954.4v-3.2M332.1,7.4v6.3M332.1,474.6v12.6M332.1,954.4v-6.3M341.8,7.4v3.2M341.8,477.7v6.4M341.8,954.4v-3.2M351.6,7.4v3.2M351.6,477.7v6.4M351.6,954.4v-3.2M361.3,7.4v3.2M361.3,477.7v6.4M361.3,954.4v-3.2M371.0,7.4v3.2M371.0,477.7v6.4M371.0,954.4v-3.2M380.8,7.4v3.2M380.8,477.7v6.4M380.8,954.4v-3.2M390.5,7.4v3.2M390.5,477.7v6.4M390.5,954.4v-3.2M400.2,7.4v3.2M400.2,477.7v6.4M400.2,954.4v-3.2M409.9,7.4v3.2M409.9,477.7v6.4M409.9,954.4v-3.2M419.7,7.4v3.2M419.7,477.7v6.4M419.7,954.4v-3.2M429.4,7.4v6.3M429.4,474.6v12.6M429.4,954.4v-6.3M439.1,7.4v3.2M439.1,477.7v6.4M439.1,954.4v-3.2M448.9,7.4v3.2M448.9,477.7v6.4M448.9,954.4v-3.2M458.6,7.4v3.2M458.6,477.7v6.4M458.6,954.4v-3.2M468.3,7.4v3.2M468.3,477.7v6.4M468.3,954.4v-3.2M478.0,7.4v3.2M478.0,477.7v6.4M478.0,954.4v-3.2M487.8,7.4v3.2M487.8,477.7v6.4M487.8,954.4v-3.2M497.5,7.4v3.2M497.5,477.7v6.4M497.5,954.4v-3.2M507.2,7.4v3.2M507.2,477.7v6.4M507.2,954.4v-3.2M517.0,7.4v3.2M517.0,477.7v6.4M517.0,954.4v-3.2M526.7,7.4v6.3M526.7,474.6v12.6M526.7,954.4v-6.3M536.4,7.4v3.2M536.4,477.7v6.4M536.4,954.4v-3.2M546.2,7.4v3.2M546.2,477.7v6.4M546.2,954.4v-3.2M555.9,7.4v3.2M555.9,477.7v6.4M555.9,954.4v-3.2M565.6,7.4v3.2M565.6,477.7v6.4M565.6,954.4v-3.2M575.4,7.4v3.2M575.4,477.7v6.4M575.4,954.4v-3.2M585.1,7.4v3.2M585.1,477.7v6.4M585.1,954.4v-3.2M594.8,7.4v3.2M594.8,477.7v6.4M594.8,954.4v-3.2M604.5,7.4v3.2M604.5,477.7v6.4M604.5,954.4v-3.2M614.3,7.4v3.2M614.3,477.7v6.4M614.3,954.4v-3.2M624.0,7.4v6.3M624.0,474.6v12.6M624.0,954.4v-6.3M633.7,7.4v3.2M633.7,477.7v6.4M633.7,954.4v-3.2M643.5,7.4v3.2M643.5,477.7v6.4M643.5,954.4v-3.2M653.2,7.4v3.2M653.2,477.7v6.4M653.2,954.4v-3.2M662.9,7.4v3.2M662.9,477.7v6.4M662.9,954.4v-3.2M672.6,7.4v3.2M672.6,477.7v6.4M672.6,954.4v-3.2M682.4,7.4v3.2M682.4,477.7v6.4M682.4,954.4v-3.2M692.1,7.4v3.2M692.1,477.7v6.4M692.1,954.4v-3.2M701.8,7.4v3.2M701.8,477.7v6.4M701.8,954.4v-3.2M711.6,7.4v3.2M711.6,477.7v6.4M711.6,954.4v-3.2M721.3,7.4v6.3M721.3,474.6v12.6M721.3,954.4v-6.3M731.0,7.4v3.2M731.0,477.7v6.4M731.0,954.4v-3.2M740.8,7.4v3.2M740.8,477.7v6.4M740.8,954.4v-3.2M750.5,7.4v3.2M750.5,477.7v6.4M750.5,954.4v-3.2M760.2,7.4v3.2M760.2,477.7v6.4M760.2,954.4v-3.2M770.0,7.4v3.2M770.0,477.7v6.4M770.0,954.4v-3.2M779.7,7.4v3.2M779.7,477.7v6.4M779.7,954.4v-3.2M789.4,7.4v3.2M789.4,477.7v6.4M789.4,954.4v-3.2M64.5,466.1h3.2M794.3,466.1h-3.2M64.5,451.3h6.3M794.3,451.3h-6.3M64.5,436.5h3.2M794.3,436.5h-3.2M64.5,421.7h3.2M794.3,421.7h-3.2M64.5,406.9h3.2M794.3,406.9h-3.2M64.5,392.1h3.2M794.3,392.1h-3.2M64.5,377.3h6.3M794.3,377.3h-6.3M64.5,362.5h3.2M794.3,362.5h-3.2M64.5,347.7h3.2M794.3,347.7h-3.2M64.5,332.9h3.2M794.3,332.9h-3.2M64.5,318.1h3.2M794.3,318.1h-3.2M64.5,303.3h6.3M794.3,303.3h-6.3M64.5,288.5h3.2M794.3,288.5h-3.2M64.5,273.7h3.2M794.3,273.7h-3.2M64.5,258.9h3.2M794.3,258.9h-3.2M64.5,244.1h3.2M794.3,244.1h-3.2M64.5,229.3h6.3M794.3,229.3h-6.3M64.5,214.5h3.2M794.3,214.5h-3.2M64.5,199.8h3.2M794.3,199.8h-3.2M64.5,185.0h3.2M794.3,185.0h-3.2M64.5,170.2h3.2M794.3,170.2h-3.2M64.5,155.4h6.3M794.3,155.4h-6.3M64.5,140.6h3.2M794.3,140.6h-3.2M64.5,125.8h3.2M794.3,125.8h-3.2M64.5,111.0h3.2M794.3,111.0h-3.2M64.5,96.2h3.2M794.3,96.2h-3.2M64.5,81.4h6.3M794.3,81.4h-6.3M64.5,66.6h3.2M794.3,66.6h-3.2M64.5,51.8h3.2M794.3,51.8h-3.2M64.5,37.0h3.2M794.3,37.0h-3.2M64.5,22.2h3.2M794.3,22.2h-3.2M64.5,941.9h3.2M794.3,941.9h-3.2M64.5,929.5h3.2M794.3,929.5h-3.2M64.5,917.0h3.2M794.3,917.0h-3.2M64.5,904.6h6.3M794.3,904.6h-6.3M64.5,892.1h3.2M794.3,892.1h-3.2M64.5,879.6h3.2M794.3,879.6h-3.2M64.5,867.2h3.2M794.3,867.2h-3.2M64.5,854.7h6.3M794.3,854.7h-6.3M64.5,842.3h3.2M794.3,842.3h-3.2M64.5,829.8h3.2M794.3,829.8h-3.2M64.5,817.3h3.2M794.3,817.3h-3.2M64.5,804.9h6.3M794.3,804.9h-6.3M64.5,792.4h3.2M794.3,792.4h-3.2M64.5,780.0h3.2M794.3,780.0h-3.2M64.5,767.5h3.2M794.3,767.5h-3.2M64.5,755.0h6.3M794.3,755.0h-6.3M64.5,742.6h3.2M794.3,742.6h-3.2M64.5,730.1h3.2M794.3,730.1h-3.2M64.5,717.7h3.2M794.3,717.7h-3.2M64.5,705.2h6.3M794.3,705.2h-6.3M64.5,692.7h3.2M794.3,692.7h-3.2M64.5,680.3h3.2M794.3,680.3h-3.2M64.5,667.8h3.2M794.3,667.8h-3.2M64.5,655.4h6.3M794.3,655.4h-6.3M64.5,642.9h3.2M794.3,642.9h-3.2M64.5,630.4h3.2M794.3,630.4h-3.2M64.5,618.0h3.2M794.3,618.0h-3.2M64.5,605.5h6.3M794.3,605.5h-6.3M64.5,593.1h3.2M794.3,593.1h-3.2M64.5,580.6h3.2M794.3,580.6h-3.2M64.5,568.1h3.2M794.3,568.1h-3.2M64.5,555.7h6.3M794.3,555.7h-6.3M64.5,543.2h3.2M794.3,543.2h-3.2M64.5,530.8h3.2M794.3,530.8h-3.2M64.5,518.3h3.2M794.3,518.3h-3.2M64.5,505.8h6.3M794.3,505.8h-6.3M64.5,493.4h3.2M794.3,493.4h-3.2" stroke-width="0.7"/>
</g>
<g font-family="'Liberation Serif', serif" font-size="18.3" fill="#000" opacity="0.999">
<text transform="translate(51.6,457.7) scale(0.975,1)" font-size="18.8" text-anchor="end">0.0</text>
<text transform="translate(51.6,383.7) scale(0.975,1)" font-size="18.8" text-anchor="end">0.5</text>
<text transform="translate(51.6,309.7) scale(0.975,1)" font-size="18.8" text-anchor="end">1.0</text>
<text transform="translate(51.6,235.7) scale(0.975,1)" font-size="18.8" text-anchor="end">1.5</text>
<text transform="translate(51.6,161.8) scale(0.975,1)" font-size="18.8" text-anchor="end">2.0</text>
<text transform="translate(51.6,87.8) scale(0.975,1)" font-size="18.8" text-anchor="end">2.5</text>
<text transform="translate(51.6,15.9) scale(0.975,1)" font-size="18.8" text-anchor="end">3.0</text>
<text transform="translate(51.6,960.8) scale(0.975,1)" font-size="18.8" text-anchor="end">-0.2</text>
<text transform="translate(51.6,911.0) scale(0.975,1)" font-size="18.8" text-anchor="end">0.0</text>
<text transform="translate(51.6,861.1) scale(0.975,1)" font-size="18.8" text-anchor="end">0.2</text>
<text transform="translate(51.6,811.3) scale(0.975,1)" font-size="18.8" text-anchor="end">0.4</text>
<text transform="translate(51.6,761.4) scale(0.975,1)" font-size="18.8" text-anchor="end">0.6</text>
<text transform="translate(51.6,711.6) scale(0.975,1)" font-size="18.8" text-anchor="end">0.8</text>
<text transform="translate(51.6,661.8) scale(0.975,1)" font-size="18.8" text-anchor="end">1.0</text>
<text transform="translate(51.6,611.9) scale(0.975,1)" font-size="18.8" text-anchor="end">1.2</text>
<text transform="translate(51.6,562.1) scale(0.975,1)" font-size="18.8" text-anchor="end">1.4</text>
<text transform="translate(51.6,512.2) scale(0.975,1)" font-size="18.8" text-anchor="end">1.6</text>
<text transform="translate(137.5,980.9) scale(1.045,1)" font-size="19.2" text-anchor="middle">-60</text>
<text transform="translate(234.8,980.9) scale(1.045,1)" font-size="19.2" text-anchor="middle">-40</text>
<text transform="translate(332.1,980.9) scale(1.045,1)" font-size="19.2" text-anchor="middle">-20</text>
<text transform="translate(431.6,980.9) scale(1.045,1)" font-size="19.2" text-anchor="middle">0</text>
<text transform="translate(528.9,980.9) scale(1.045,1)" font-size="19.2" text-anchor="middle">20</text>
<text transform="translate(626.2,980.9) scale(1.045,1)" font-size="19.2" text-anchor="middle">40</text>
<text transform="translate(723.5,980.9) scale(1.045,1)" font-size="19.2" text-anchor="middle">60</text>
<text transform="translate(705,511.0) scale(1.045,1)" font-size="18.8" text-anchor="end">Obs</text>
<path d="M716.6,505.0H771.1" stroke="#08661a" stroke-width="2.2" stroke-linecap="round" fill="none"/>
<text transform="translate(705,530.8) scale(1.045,1)" font-size="18.8" text-anchor="end">Gauss</text>
<path d="M716.6,524.8H771.1" stroke="#0000ff" stroke-width="2.2" stroke-linecap="round" fill="none"/>
<text transform="translate(705,550.5) scale(1.045,1)" font-size="18.8" text-anchor="end">Voigt</text>
<path d="M716.6,544.5H771.1" stroke="#c4480e" stroke-width="2.2" stroke-linecap="round" fill="none"/>
</g>
<g font-family="'Liberation Serif', serif" font-size="22.7" fill="#000">
<text transform="translate(371,1008.4) scale(0.965,1)" xml:space="preserve">v<tspan font-size="17.5" dy="7">LSR</tspan><tspan dy="-7"> (km s</tspan><tspan font-size="17.5" dy="-9.5">-1</tspan><tspan dy="9.5">)</tspan></text>
<text transform="translate(14,272.8) rotate(-90) scale(0.965,1)" xml:space="preserve">T<tspan font-size="17.5" dy="6.6">b</tspan><tspan dy="-6.6"> (K)</tspan></text>
<text transform="translate(14,746.3) rotate(-90) scale(0.965,1)" xml:space="preserve">T<tspan font-size="17.5" dy="6.6">b</tspan><tspan dy="-6.6"> (K)</tspan></text>
</g>
<defs><path id="g2d" d="M95,-285H505"/><path id="g30" d="M300,-617C190,-617 125,-500 125,-307C125,-115 190,3 300,3C410,3 475,-115 475,-307C475,-500 410,-617 300,-617Z"/><path id="g31" d="M140,-490L310,-617V0M130,0H480"/><path id="g32" d="M125,-440C125,-550 200,-617 300,-617C400,-617 470,-550 470,-460C470,-380 420,-320 330,-240L105,-30V0H480V-75"/><path id="g33" d="M125,-555C175,-597 235,-617 295,-617C390,-617 455,-560 455,-480C455,-395 385,-340 280,-340C400,-340 490,-275 490,-175C490,-65 400,3 285,3C205,3 135,-25 95,-75"/><path id="g34" d="M385,0V-612L100,-185H500M265,0H485"/><path id="g35" d="M445,-607H160V-345C210,-388 260,-405 310,-405C420,-405 490,-320 490,-205C490,-80 400,3 290,3C210,3 140,-30 100,-85"/><path id="g36" d="M465,-585C425,-607 390,-617 350,-617C220,-617 130,-480 130,-280C130,-100 200,3 310,3C410,3 480,-80 480,-190C480,-300 410,-380 310,-380C225,-380 155,-320 132,-225"/><path id="g37" d="M110,-530V-607H470L290,0"/><path id="g38" d="M300,-617C210,-617 160,-545 160,-470C160,-390 210,-325 300,-325C390,-325 440,-390 440,-470C440,-545 390,-617 300,-617ZM300,-325C200,-325 130,-250 130,-160C130,-65 200,3 300,3C400,3 470,-65 470,-160C470,-250 400,-325 300,-325Z"/><path id="g39" d="M135,-30C175,-8 210,3 250,3C380,3 470,-135 470,-335C470,-515 400,-617 290,-617C190,-617 120,-535 120,-425C120,-315 190,-235 290,-235C375,-235 445,-295 468,-390"/><path id="g3d" d="M95,-375H505M95,-185H505"/><path id="g46" d="M80,0H330M170,0V-562M80,-562H510V-415M170,-285H375M375,-365V-205"/><path id="g47" d="M490,-410V-535C440,-568 385,-577 330,-577C170,-577 65,-450 65,-280C65,-110 170,15 330,15C400,15 460,-5 510,-45V-225M335,-225H565"/><path id="g48" d="M50,-562H250M350,-562H550M50,0H250M350,0H550M150,-562V0M450,-562V0M150,-290H450"/><path id="g4d" d="M15,0H200M400,0H585M15,-562H105M495,-562H585M100,0V-562L300,-190L500,-562V0"/><path id="g56" d="M20,-562H210M390,-562H580M85,-562L300,0L515,-562"/><path id="g57" d="M20,-562H200M400,-562H580M75,-562L165,0L300,-400L435,0L525,-562"/><path id="g62" d="M60,-629H170V0M60,0H170M170,-290C210,-390 280,-436 350,-436C470,-436 545,-340 545,-213C545,-85 470,10 350,10C280,10 210,-35 170,-135"/><path id="g6b" d="M80,-629H190V0M80,0H260M190,-185L440,-426M355,-426H525M280,-265L455,0M390,0H545"/><path id="g6c" d="M150,-629H300V0M120,0H480"/><path id="g6d" d="M25,-426H115V0M25,0H180M115,-325C143,-395 180,-436 228,-436C285,-436 305,-390 305,-315V0H365M305,-325C333,-395 372,-436 420,-436C478,-436 498,-390 498,-315V0H572"/><path id="g73" d="M455,-426V-315M455,-340C405,-410 345,-436 290,-436C200,-436 135,-390 135,-320C135,-250 200,-228 300,-212C410,-195 475,-165 475,-100C475,-30 400,10 300,10C215,10 155,-25 125,-95M125,-120V0"/></defs>
<g fill="none" stroke="#000" stroke-width="100" stroke-linecap="round" stroke-linejoin="round">
<use href="#g6c" transform="translate(130.16,37.20) scale(0.0200,0.0168)"/><use href="#g3d" transform="translate(154.03,37.20) scale(0.0200,0.0168)"/><use href="#g32" transform="translate(177.89,37.20) scale(0.0200,0.0168)"/><use href="#g37" transform="translate(189.82,37.20) scale(0.0200,0.0168)"/><use href="#g36" transform="translate(201.75,37.20) scale(0.0200,0.0168)"/><circle cx="219.68" cy="36.10" r="1.48" fill="#000" stroke="none"/><use href="#g39" transform="translate(225.61,37.20) scale(0.0200,0.0168)"/><use href="#g39" transform="translate(237.54,37.20) scale(0.0200,0.0168)"/><use href="#g30" transform="translate(249.47,37.20) scale(0.0200,0.0168)"/><use href="#g62" transform="translate(130.16,60.10) scale(0.0200,0.0168)"/><use href="#g3d" transform="translate(154.03,60.10) scale(0.0200,0.0168)"/><use href="#g2d" transform="translate(177.89,60.10) scale(0.0200,0.0168)"/><use href="#g34" transform="translate(189.82,60.10) scale(0.0200,0.0168)"/><use href="#g38" transform="translate(201.75,60.10) scale(0.0200,0.0168)"/><circle cx="219.68" cy="59.00" r="1.48" fill="#000" stroke="none"/><use href="#g38" transform="translate(225.61,60.10) scale(0.0200,0.0168)"/><use href="#g32" transform="translate(237.54,60.10) scale(0.0200,0.0168)"/><use href="#g35" transform="translate(249.47,60.10) scale(0.0200,0.0168)"/><circle cx="265" cy="28.2" r="2.3" fill="none" stroke="#000" stroke-width="1.1"/><circle cx="265" cy="51.1" r="2.3" fill="none" stroke="#000" stroke-width="1.1"/><use href="#g46" transform="translate(85.40,94.50) scale(0.0200,0.0168)"/><use href="#g57" transform="translate(97.40,94.50) scale(0.0200,0.0168)"/><use href="#g48" transform="translate(109.40,94.50) scale(0.0200,0.0168)"/><use href="#g4d" transform="translate(121.40,94.50) scale(0.0200,0.0168)"/><use href="#g47" transform="translate(133.40,99.70) scale(0.0160,0.0134)"/><use href="#g3d" transform="translate(155.00,94.50) scale(0.0200,0.0168)"/><use href="#g32" transform="translate(191.00,94.50) scale(0.0200,0.0168)"/><use href="#g33" transform="translate(203.00,94.50) scale(0.0200,0.0168)"/><circle cx="221.00" cy="93.40" r="1.48" fill="#000" stroke="none"/><use href="#g36" transform="translate(227.00,94.50) scale(0.0200,0.0168)"/><use href="#g6b" transform="translate(251.00,94.50) scale(0.0200,0.0168)"/><use href="#g6d" transform="translate(263.00,94.50) scale(0.0200,0.0168)"/><use href="#g73" transform="translate(275.00,94.50) scale(0.0200,0.0168)"/><use href="#g2d" transform="translate(287.35,85.00) scale(0.0160,0.0134)"/><use href="#g31" transform="translate(296.65,85.00) scale(0.0160,0.0134)"/><use href="#g46" transform="translate(85.40,117.40) scale(0.0200,0.0168)"/><use href="#g57" transform="translate(97.40,117.40) scale(0.0200,0.0168)"/><use href="#g48" transform="translate(109.40,117.40) scale(0.0200,0.0168)"/><use href="#g4d" transform="translate(121.40,117.40) scale(0.0200,0.0168)"/><use href="#g56" transform="translate(133.40,122.60) scale(0.0160,0.0134)"/><use href="#g3d" transform="translate(155.00,117.40) scale(0.0200,0.0168)"/><use href="#g32" transform="translate(191.00,117.40) scale(0.0200,0.0168)"/><use href="#g34" transform="translate(203.00,117.40) scale(0.0200,0.0168)"/><circle cx="221.00" cy="116.30" r="1.48" fill="#000" stroke="none"/><use href="#g33" transform="translate(227.00,117.40) scale(0.0200,0.0168)"/><use href="#g6b" transform="translate(251.00,117.40) scale(0.0200,0.0168)"/><use href="#g6d" transform="translate(263.00,117.40) scale(0.0200,0.0168)"/><use href="#g73" transform="translate(275.00,117.40) scale(0.0200,0.0168)"/><use href="#g2d" transform="translate(287.35,107.90) scale(0.0160,0.0134)"/><use href="#g31" transform="translate(296.65,107.90) scale(0.0160,0.0134)"/><use href="#g6c" transform="translate(130.16,511.10) scale(0.0200,0.0168)"/><use href="#g3d" transform="translate(154.03,511.10) scale(0.0200,0.0168)"/><use href="#g32" transform="translate(177.89,511.10) scale(0.0200,0.0168)"/><use href="#g36" transform="translate(189.82,511.10) scale(0.0200,0.0168)"/><use href="#g35" transform="translate(201.75,511.10) scale(0.0200,0.0168)"/><circle cx="219.68" cy="510.00" r="1.48" fill="#000" stroke="none"/><use href="#g35" transform="translate(225.61,511.10) scale(0.0200,0.0168)"/><use href="#g34" transform="translate(237.54,511.10) scale(0.0200,0.0168)"/><use href="#g31" transform="translate(249.47,511.10) scale(0.0200,0.0168)"/><use href="#g62" transform="translate(130.16,534.60) scale(0.0200,0.0168)"/><use href="#g3d" transform="translate(154.03,534.60) scale(0.0200,0.0168)"/><use href="#g2d" transform="translate(177.89,534.60) scale(0.0200,0.0168)"/><use href="#g34" transform="translate(189.82,534.60) scale(0.0200,0.0168)"/><use href="#g34" transform="translate(201.75,534.60) scale(0.0200,0.0168)"/><circle cx="219.68" cy="533.50" r="1.48" fill="#000" stroke="none"/><use href="#g30" transform="translate(225.61,534.60) scale(0.0200,0.0168)"/><use href="#g35" transform="translate(237.54,534.60) scale(0.0200,0.0168)"/><use href="#g33" transform="translate(249.47,534.60) scale(0.0200,0.0168)"/><circle cx="265" cy="502.1" r="2.3" fill="none" stroke="#000" stroke-width="1.1"/><circle cx="265" cy="525.6" r="2.3" fill="none" stroke="#000" stroke-width="1.1"/><use href="#g46" transform="translate(85.40,567.80) scale(0.0200,0.0168)"/><use href="#g57" transform="translate(97.40,567.80) scale(0.0200,0.0168)"/><use href="#g48" transform="translate(109.40,567.80) scale(0.0200,0.0168)"/><use href="#g4d" transform="translate(121.40,567.80) scale(0.0200,0.0168)"/><use href="#g47" transform="translate(133.40,573.00) scale(0.0160,0.0134)"/><use href="#g3d" transform="translate(155.00,567.80) scale(0.0200,0.0168)"/><use href="#g32" transform="translate(191.00,567.80) scale(0.0200,0.0168)"/><use href="#g35" transform="translate(203.00,567.80) scale(0.0200,0.0168)"/><circle cx="221.00" cy="566.70" r="1.48" fill="#000" stroke="none"/><use href="#g38" transform="translate(227.00,567.80) scale(0.0200,0.0168)"/><use href="#g6b" transform="translate(251.00,567.80) scale(0.0200,0.0168)"/><use href="#g6d" transform="translate(263.00,567.80) scale(0.0200,0.0168)"/><use href="#g73" transform="translate(275.00,567.80) scale(0.0200,0.0168)"/><use href="#g2d" transform="translate(287.35,558.30) scale(0.0160,0.0134)"/><use href="#g31" transform="translate(296.65,558.30) scale(0.0160,0.0134)"/><use href="#g46" transform="translate(85.40,591.30) scale(0.0200,0.0168)"/><use href="#g57" transform="translate(97.40,591.30) scale(0.0200,0.0168)"/><use href="#g48" transform="translate(109.40,591.30) scale(0.0200,0.0168)"/><use href="#g4d" transform="translate(121.40,591.30) scale(0.0200,0.0168)"/><use href="#g56" transform="translate(133.40,596.50) scale(0.0160,0.0134)"/><use href="#g3d" transform="translate(155.00,591.30) scale(0.0200,0.0168)"/><use href="#g32" transform="translate(191.00,591.30) scale(0.0200,0.0168)"/><use href="#g38" transform="translate(203.00,591.30) scale(0.0200,0.0168)"/><circle cx="221.00" cy="590.20" r="1.48" fill="#000" stroke="none"/><use href="#g31" transform="translate(227.00,591.30) scale(0.0200,0.0168)"/><use href="#g6b" transform="translate(251.00,591.30) scale(0.0200,0.0168)"/><use href="#g6d" transform="translate(263.00,591.30) scale(0.0200,0.0168)"/><use href="#g73" transform="translate(275.00,591.30) scale(0.0200,0.0168)"/><use href="#g2d" transform="translate(287.35,581.80) scale(0.0160,0.0134)"/><use href="#g31" transform="translate(296.65,581.80) scale(0.0160,0.0134)"/>
</g>
</svg>
</body></html>
